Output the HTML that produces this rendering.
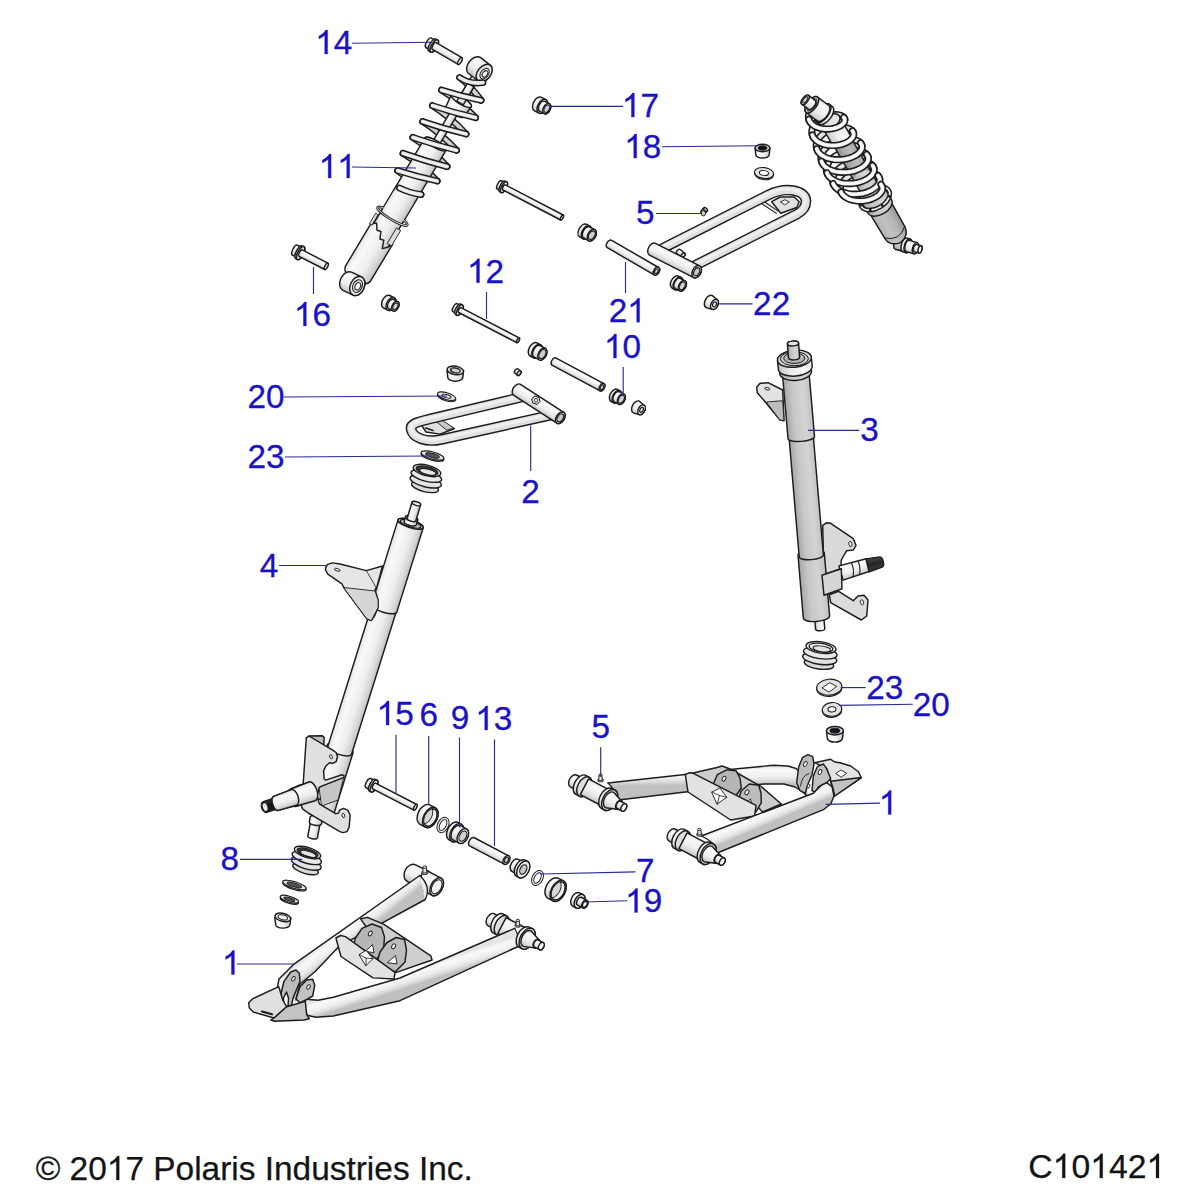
<!DOCTYPE html>
<html><head><meta charset="utf-8"><title>C101421</title>
<style>html,body{margin:0;padding:0;background:#fff;}body{width:1200px;height:1200px;overflow:hidden;font-family:"Liberation Sans",sans-serif;}svg{display:block;}text{font-family:"Liberation Sans",sans-serif;}</style>
</head><body>
<svg width="1200" height="1200" viewBox="0 0 1200 1200">
<defs><linearGradient id="g1" gradientUnits="userSpaceOnUse" x1="436.1" y1="42.7" x2="432.3" y2="49.3"><stop offset="0" stop-color="#e4e4e4"/><stop offset="0.22" stop-color="#f9f9f9"/><stop offset="0.6" stop-color="#eeeeee"/><stop offset="0.82" stop-color="#dadada"/><stop offset="1" stop-color="#c0c0c0"/></linearGradient><linearGradient id="g2" gradientUnits="userSpaceOnUse" x1="436" y1="39" x2="428.9" y2="51.1"><stop offset="0" stop-color="#e4e4e4"/><stop offset="0.22" stop-color="#f9f9f9"/><stop offset="0.6" stop-color="#eeeeee"/><stop offset="0.82" stop-color="#dadada"/><stop offset="1" stop-color="#c0c0c0"/></linearGradient><linearGradient id="g3" gradientUnits="userSpaceOnUse" x1="431.3" y1="38" x2="425.8" y2="47.5"><stop offset="0" stop-color="#e4e4e4"/><stop offset="0.22" stop-color="#f9f9f9"/><stop offset="0.6" stop-color="#eeeeee"/><stop offset="0.82" stop-color="#dadada"/><stop offset="1" stop-color="#c0c0c0"/></linearGradient><linearGradient id="g4" gradientUnits="userSpaceOnUse" x1="302.3" y1="249.9" x2="299" y2="256.3"><stop offset="0" stop-color="#e4e4e4"/><stop offset="0.22" stop-color="#f9f9f9"/><stop offset="0.6" stop-color="#eeeeee"/><stop offset="0.82" stop-color="#dadada"/><stop offset="1" stop-color="#c0c0c0"/></linearGradient><linearGradient id="g5" gradientUnits="userSpaceOnUse" x1="302.1" y1="245.8" x2="295.6" y2="258.6"><stop offset="0" stop-color="#e4e4e4"/><stop offset="0.22" stop-color="#f9f9f9"/><stop offset="0.6" stop-color="#eeeeee"/><stop offset="0.82" stop-color="#dadada"/><stop offset="1" stop-color="#c0c0c0"/></linearGradient><linearGradient id="g6" gradientUnits="userSpaceOnUse" x1="297.4" y1="245.2" x2="292.3" y2="255.2"><stop offset="0" stop-color="#e4e4e4"/><stop offset="0.22" stop-color="#f9f9f9"/><stop offset="0.6" stop-color="#eeeeee"/><stop offset="0.82" stop-color="#dadada"/><stop offset="1" stop-color="#c0c0c0"/></linearGradient><linearGradient id="g7" gradientUnits="userSpaceOnUse" x1="505.3" y1="184.8" x2="502.7" y2="189.8"><stop offset="0" stop-color="#e4e4e4"/><stop offset="0.22" stop-color="#f9f9f9"/><stop offset="0.6" stop-color="#eeeeee"/><stop offset="0.82" stop-color="#dadada"/><stop offset="1" stop-color="#c0c0c0"/></linearGradient><linearGradient id="g8" gradientUnits="userSpaceOnUse" x1="505" y1="181.1" x2="499.5" y2="191.7"><stop offset="0" stop-color="#e4e4e4"/><stop offset="0.22" stop-color="#f9f9f9"/><stop offset="0.6" stop-color="#eeeeee"/><stop offset="0.82" stop-color="#dadada"/><stop offset="1" stop-color="#c0c0c0"/></linearGradient><linearGradient id="g9" gradientUnits="userSpaceOnUse" x1="501.3" y1="180.6" x2="497" y2="188.9"><stop offset="0" stop-color="#e4e4e4"/><stop offset="0.22" stop-color="#f9f9f9"/><stop offset="0.6" stop-color="#eeeeee"/><stop offset="0.82" stop-color="#dadada"/><stop offset="1" stop-color="#c0c0c0"/></linearGradient><linearGradient id="g10" gradientUnits="userSpaceOnUse" x1="461" y1="307.7" x2="458.5" y2="312.5"><stop offset="0" stop-color="#e4e4e4"/><stop offset="0.22" stop-color="#f9f9f9"/><stop offset="0.6" stop-color="#eeeeee"/><stop offset="0.82" stop-color="#dadada"/><stop offset="1" stop-color="#c0c0c0"/></linearGradient><linearGradient id="g11" gradientUnits="userSpaceOnUse" x1="460.6" y1="304" x2="455.3" y2="314.3"><stop offset="0" stop-color="#e4e4e4"/><stop offset="0.22" stop-color="#f9f9f9"/><stop offset="0.6" stop-color="#eeeeee"/><stop offset="0.82" stop-color="#dadada"/><stop offset="1" stop-color="#c0c0c0"/></linearGradient><linearGradient id="g12" gradientUnits="userSpaceOnUse" x1="456.9" y1="303.6" x2="452.8" y2="311.6"><stop offset="0" stop-color="#e4e4e4"/><stop offset="0.22" stop-color="#f9f9f9"/><stop offset="0.6" stop-color="#eeeeee"/><stop offset="0.82" stop-color="#dadada"/><stop offset="1" stop-color="#c0c0c0"/></linearGradient><linearGradient id="g13" gradientUnits="userSpaceOnUse" x1="375.5" y1="783.2" x2="372.6" y2="788.9"><stop offset="0" stop-color="#e4e4e4"/><stop offset="0.22" stop-color="#f9f9f9"/><stop offset="0.6" stop-color="#eeeeee"/><stop offset="0.82" stop-color="#dadada"/><stop offset="1" stop-color="#c0c0c0"/></linearGradient><linearGradient id="g14" gradientUnits="userSpaceOnUse" x1="375.3" y1="779.3" x2="369.2" y2="791"><stop offset="0" stop-color="#e4e4e4"/><stop offset="0.22" stop-color="#f9f9f9"/><stop offset="0.6" stop-color="#eeeeee"/><stop offset="0.82" stop-color="#dadada"/><stop offset="1" stop-color="#c0c0c0"/></linearGradient><linearGradient id="g15" gradientUnits="userSpaceOnUse" x1="370.6" y1="778.5" x2="365.9" y2="787.6"><stop offset="0" stop-color="#e4e4e4"/><stop offset="0.22" stop-color="#f9f9f9"/><stop offset="0.6" stop-color="#eeeeee"/><stop offset="0.82" stop-color="#dadada"/><stop offset="1" stop-color="#c0c0c0"/></linearGradient><linearGradient id="g16" gradientUnits="userSpaceOnUse" x1="611.7" y1="240.3" x2="607.3" y2="247.7"><stop offset="0" stop-color="#e4e4e4"/><stop offset="0.22" stop-color="#f9f9f9"/><stop offset="0.6" stop-color="#eeeeee"/><stop offset="0.82" stop-color="#dadada"/><stop offset="1" stop-color="#c0c0c0"/></linearGradient><linearGradient id="g17" gradientUnits="userSpaceOnUse" x1="555.7" y1="357.9" x2="551.9" y2="365.1"><stop offset="0" stop-color="#e4e4e4"/><stop offset="0.22" stop-color="#f9f9f9"/><stop offset="0.6" stop-color="#eeeeee"/><stop offset="0.82" stop-color="#dadada"/><stop offset="1" stop-color="#c0c0c0"/></linearGradient><linearGradient id="g18" gradientUnits="userSpaceOnUse" x1="473.9" y1="837.5" x2="469.5" y2="845.9"><stop offset="0" stop-color="#e4e4e4"/><stop offset="0.22" stop-color="#f9f9f9"/><stop offset="0.6" stop-color="#eeeeee"/><stop offset="0.82" stop-color="#dadada"/><stop offset="1" stop-color="#c0c0c0"/></linearGradient><linearGradient id="g19" gradientUnits="userSpaceOnUse" x1="541.5" y1="97.3" x2="534.4" y2="110.8"><stop offset="0" stop-color="#e4e4e4"/><stop offset="0.22" stop-color="#f9f9f9"/><stop offset="0.6" stop-color="#eeeeee"/><stop offset="0.82" stop-color="#dadada"/><stop offset="1" stop-color="#c0c0c0"/></linearGradient><linearGradient id="g20" gradientUnits="userSpaceOnUse" x1="545" y1="101.4" x2="539.8" y2="111.4"><stop offset="0" stop-color="#e4e4e4"/><stop offset="0.22" stop-color="#f9f9f9"/><stop offset="0.6" stop-color="#eeeeee"/><stop offset="0.82" stop-color="#dadada"/><stop offset="1" stop-color="#c0c0c0"/></linearGradient><linearGradient id="g21" gradientUnits="userSpaceOnUse" x1="389.8" y1="295.5" x2="383.3" y2="307.9"><stop offset="0" stop-color="#e4e4e4"/><stop offset="0.22" stop-color="#f9f9f9"/><stop offset="0.6" stop-color="#eeeeee"/><stop offset="0.82" stop-color="#dadada"/><stop offset="1" stop-color="#c0c0c0"/></linearGradient><linearGradient id="g22" gradientUnits="userSpaceOnUse" x1="393.4" y1="299.4" x2="388.6" y2="308.6"><stop offset="0" stop-color="#e4e4e4"/><stop offset="0.22" stop-color="#f9f9f9"/><stop offset="0.6" stop-color="#eeeeee"/><stop offset="0.82" stop-color="#dadada"/><stop offset="1" stop-color="#c0c0c0"/></linearGradient><linearGradient id="g23" gradientUnits="userSpaceOnUse" x1="586.3" y1="224.2" x2="579.6" y2="236.9"><stop offset="0" stop-color="#e4e4e4"/><stop offset="0.22" stop-color="#f9f9f9"/><stop offset="0.6" stop-color="#eeeeee"/><stop offset="0.82" stop-color="#dadada"/><stop offset="1" stop-color="#c0c0c0"/></linearGradient><linearGradient id="g24" gradientUnits="userSpaceOnUse" x1="589.4" y1="226.9" x2="583.6" y2="238"><stop offset="0" stop-color="#e4e4e4"/><stop offset="0.22" stop-color="#f9f9f9"/><stop offset="0.6" stop-color="#eeeeee"/><stop offset="0.82" stop-color="#dadada"/><stop offset="1" stop-color="#c0c0c0"/></linearGradient><linearGradient id="g25" gradientUnits="userSpaceOnUse" x1="537" y1="342.9" x2="530.1" y2="356"><stop offset="0" stop-color="#e4e4e4"/><stop offset="0.22" stop-color="#f9f9f9"/><stop offset="0.6" stop-color="#eeeeee"/><stop offset="0.82" stop-color="#dadada"/><stop offset="1" stop-color="#c0c0c0"/></linearGradient><linearGradient id="g26" gradientUnits="userSpaceOnUse" x1="540.1" y1="345.6" x2="534.1" y2="357.1"><stop offset="0" stop-color="#e4e4e4"/><stop offset="0.22" stop-color="#f9f9f9"/><stop offset="0.6" stop-color="#eeeeee"/><stop offset="0.82" stop-color="#dadada"/><stop offset="1" stop-color="#c0c0c0"/></linearGradient><linearGradient id="g27" gradientUnits="userSpaceOnUse" x1="617.4" y1="389.4" x2="611.1" y2="401.5"><stop offset="0" stop-color="#e4e4e4"/><stop offset="0.22" stop-color="#f9f9f9"/><stop offset="0.6" stop-color="#eeeeee"/><stop offset="0.82" stop-color="#dadada"/><stop offset="1" stop-color="#c0c0c0"/></linearGradient><linearGradient id="g28" gradientUnits="userSpaceOnUse" x1="619.6" y1="391.8" x2="614.3" y2="401.9"><stop offset="0" stop-color="#e4e4e4"/><stop offset="0.22" stop-color="#f9f9f9"/><stop offset="0.6" stop-color="#eeeeee"/><stop offset="0.82" stop-color="#dadada"/><stop offset="1" stop-color="#c0c0c0"/></linearGradient><linearGradient id="g29" gradientUnits="userSpaceOnUse" x1="678.4" y1="276.1" x2="672.1" y2="288.2"><stop offset="0" stop-color="#e4e4e4"/><stop offset="0.22" stop-color="#f9f9f9"/><stop offset="0.6" stop-color="#eeeeee"/><stop offset="0.82" stop-color="#dadada"/><stop offset="1" stop-color="#c0c0c0"/></linearGradient><linearGradient id="g30" gradientUnits="userSpaceOnUse" x1="680.6" y1="278.5" x2="675.3" y2="288.6"><stop offset="0" stop-color="#e4e4e4"/><stop offset="0.22" stop-color="#f9f9f9"/><stop offset="0.6" stop-color="#eeeeee"/><stop offset="0.82" stop-color="#dadada"/><stop offset="1" stop-color="#c0c0c0"/></linearGradient><linearGradient id="g31" gradientUnits="userSpaceOnUse" x1="457.7" y1="822.3" x2="448.6" y2="839.6"><stop offset="0" stop-color="#e4e4e4"/><stop offset="0.22" stop-color="#f9f9f9"/><stop offset="0.6" stop-color="#eeeeee"/><stop offset="0.82" stop-color="#dadada"/><stop offset="1" stop-color="#c0c0c0"/></linearGradient><linearGradient id="g32" gradientUnits="userSpaceOnUse" x1="460.4" y1="825.7" x2="453" y2="839.9"><stop offset="0" stop-color="#e4e4e4"/><stop offset="0.22" stop-color="#f9f9f9"/><stop offset="0.6" stop-color="#eeeeee"/><stop offset="0.82" stop-color="#dadada"/><stop offset="1" stop-color="#c0c0c0"/></linearGradient><linearGradient id="g33" gradientUnits="userSpaceOnUse" x1="518.2" y1="859.3" x2="511.8" y2="871.3"><stop offset="0" stop-color="#e4e4e4"/><stop offset="0.22" stop-color="#f9f9f9"/><stop offset="0.6" stop-color="#eeeeee"/><stop offset="0.82" stop-color="#dadada"/><stop offset="1" stop-color="#c0c0c0"/></linearGradient><linearGradient id="g34" gradientUnits="userSpaceOnUse" x1="524.8" y1="859.9" x2="516.2" y2="876.1"><stop offset="0" stop-color="#e4e4e4"/><stop offset="0.22" stop-color="#f9f9f9"/><stop offset="0.6" stop-color="#eeeeee"/><stop offset="0.82" stop-color="#dadada"/><stop offset="1" stop-color="#c0c0c0"/></linearGradient><linearGradient id="g35" gradientUnits="userSpaceOnUse" x1="579.6" y1="892.8" x2="572.6" y2="906.1"><stop offset="0" stop-color="#e4e4e4"/><stop offset="0.22" stop-color="#f9f9f9"/><stop offset="0.6" stop-color="#eeeeee"/><stop offset="0.82" stop-color="#dadada"/><stop offset="1" stop-color="#c0c0c0"/></linearGradient><linearGradient id="g36" gradientUnits="userSpaceOnUse" x1="581.6" y1="897.5" x2="577.6" y2="905.1"><stop offset="0" stop-color="#e4e4e4"/><stop offset="0.22" stop-color="#f9f9f9"/><stop offset="0.6" stop-color="#eeeeee"/><stop offset="0.82" stop-color="#dadada"/><stop offset="1" stop-color="#c0c0c0"/></linearGradient><linearGradient id="g37" gradientUnits="userSpaceOnUse" x1="712.4" y1="295.6" x2="706" y2="307.6"><stop offset="0" stop-color="#e4e4e4"/><stop offset="0.22" stop-color="#f9f9f9"/><stop offset="0.6" stop-color="#eeeeee"/><stop offset="0.82" stop-color="#dadada"/><stop offset="1" stop-color="#c0c0c0"/></linearGradient><linearGradient id="g38" gradientUnits="userSpaceOnUse" x1="639.4" y1="401.2" x2="633.2" y2="412.9"><stop offset="0" stop-color="#e4e4e4"/><stop offset="0.22" stop-color="#f9f9f9"/><stop offset="0.6" stop-color="#eeeeee"/><stop offset="0.82" stop-color="#dadada"/><stop offset="1" stop-color="#c0c0c0"/></linearGradient><linearGradient id="g39" gradientUnits="userSpaceOnUse" x1="429.7" y1="804.8" x2="419.6" y2="824.1"><stop offset="0" stop-color="#e4e4e4"/><stop offset="0.22" stop-color="#f9f9f9"/><stop offset="0.6" stop-color="#eeeeee"/><stop offset="0.82" stop-color="#dadada"/><stop offset="1" stop-color="#c0c0c0"/></linearGradient><clipPath id="c1039"><ellipse cx="430.4" cy="817.5" rx="5.8" ry="9.3" transform="rotate(27.7 430.4 817.5)"/></clipPath><linearGradient id="g40" gradientUnits="userSpaceOnUse" x1="558.1" y1="878.1" x2="547.6" y2="898.1"><stop offset="0" stop-color="#e4e4e4"/><stop offset="0.22" stop-color="#f9f9f9"/><stop offset="0.6" stop-color="#eeeeee"/><stop offset="0.82" stop-color="#dadada"/><stop offset="1" stop-color="#c0c0c0"/></linearGradient><clipPath id="c1041"><ellipse cx="558.2" cy="890.9" rx="6" ry="9.7" transform="rotate(27.7 558.2 890.9)"/></clipPath><linearGradient id="g41" gradientUnits="userSpaceOnUse" x1="307" y1="810" x2="332.6" y2="818"><stop offset="0" stop-color="#e4e4e4"/><stop offset="0.22" stop-color="#f9f9f9"/><stop offset="0.6" stop-color="#eeeeee"/><stop offset="0.82" stop-color="#dadada"/><stop offset="1" stop-color="#c0c0c0"/></linearGradient><linearGradient id="g42" gradientUnits="userSpaceOnUse" x1="327.6" y1="747.3" x2="351.4" y2="754.7"><stop offset="0" stop-color="#e4e4e4"/><stop offset="0.22" stop-color="#f9f9f9"/><stop offset="0.6" stop-color="#eeeeee"/><stop offset="0.82" stop-color="#dadada"/><stop offset="1" stop-color="#c0c0c0"/></linearGradient><linearGradient id="g43" gradientUnits="userSpaceOnUse" x1="371.5" y1="604.6" x2="396.7" y2="612.4"><stop offset="0" stop-color="#e4e4e4"/><stop offset="0.22" stop-color="#f9f9f9"/><stop offset="0.6" stop-color="#eeeeee"/><stop offset="0.82" stop-color="#dadada"/><stop offset="1" stop-color="#c0c0c0"/></linearGradient><linearGradient id="g44" gradientUnits="userSpaceOnUse" x1="404.2" y1="521.3" x2="416.4" y2="524.7"><stop offset="0" stop-color="#e4e4e4"/><stop offset="0.22" stop-color="#f9f9f9"/><stop offset="0.6" stop-color="#eeeeee"/><stop offset="0.82" stop-color="#dadada"/><stop offset="1" stop-color="#c0c0c0"/></linearGradient><linearGradient id="g45" gradientUnits="userSpaceOnUse" x1="407.2" y1="518.2" x2="415.8" y2="520.8"><stop offset="0" stop-color="#e4e4e4"/><stop offset="0.22" stop-color="#f9f9f9"/><stop offset="0.6" stop-color="#eeeeee"/><stop offset="0.82" stop-color="#dadada"/><stop offset="1" stop-color="#c0c0c0"/></linearGradient><linearGradient id="g46" gradientUnits="userSpaceOnUse" x1="297.6" y1="786" x2="303.7" y2="804.4"><stop offset="0" stop-color="#e4e4e4"/><stop offset="0.22" stop-color="#f9f9f9"/><stop offset="0.6" stop-color="#eeeeee"/><stop offset="0.82" stop-color="#dadada"/><stop offset="1" stop-color="#c0c0c0"/></linearGradient><linearGradient id="g47" gradientUnits="userSpaceOnUse" x1="290.2" y1="789.2" x2="295.9" y2="806.3"><stop offset="0" stop-color="#e4e4e4"/><stop offset="0.22" stop-color="#f9f9f9"/><stop offset="0.6" stop-color="#eeeeee"/><stop offset="0.82" stop-color="#dadada"/><stop offset="1" stop-color="#c0c0c0"/></linearGradient><linearGradient id="g48" gradientUnits="userSpaceOnUse" x1="273.7" y1="796.4" x2="278.3" y2="810.4"><stop offset="0" stop-color="#e4e4e4"/><stop offset="0.22" stop-color="#f9f9f9"/><stop offset="0.6" stop-color="#eeeeee"/><stop offset="0.82" stop-color="#dadada"/><stop offset="1" stop-color="#c0c0c0"/></linearGradient><linearGradient id="g49" gradientUnits="userSpaceOnUse" x1="275.2" y1="797.8" x2="278.7" y2="808.4"><stop offset="0" stop-color="#333"/><stop offset="0.5" stop-color="#111"/><stop offset="1" stop-color="#222"/></linearGradient><linearGradient id="g50" gradientUnits="userSpaceOnUse" x1="307.8" y1="836.1" x2="317.4" y2="837.9"><stop offset="0" stop-color="#e4e4e4"/><stop offset="0.22" stop-color="#f9f9f9"/><stop offset="0.6" stop-color="#eeeeee"/><stop offset="0.82" stop-color="#dadada"/><stop offset="1" stop-color="#c0c0c0"/></linearGradient><linearGradient id="g51" gradientUnits="userSpaceOnUse" x1="309.3" y1="822" x2="321.5" y2="824"><stop offset="0" stop-color="#e4e4e4"/><stop offset="0.22" stop-color="#f9f9f9"/><stop offset="0.6" stop-color="#eeeeee"/><stop offset="0.82" stop-color="#dadada"/><stop offset="1" stop-color="#c0c0c0"/></linearGradient><linearGradient id="g52" gradientUnits="userSpaceOnUse" x1="290.2" y1="789.2" x2="295.9" y2="806.3"><stop offset="0" stop-color="#e4e4e4"/><stop offset="0.22" stop-color="#f9f9f9"/><stop offset="0.6" stop-color="#eeeeee"/><stop offset="0.82" stop-color="#dadada"/><stop offset="1" stop-color="#c0c0c0"/></linearGradient><linearGradient id="g53" gradientUnits="userSpaceOnUse" x1="273.7" y1="796.4" x2="278.3" y2="810.4"><stop offset="0" stop-color="#e4e4e4"/><stop offset="0.22" stop-color="#f9f9f9"/><stop offset="0.6" stop-color="#eeeeee"/><stop offset="0.82" stop-color="#dadada"/><stop offset="1" stop-color="#c0c0c0"/></linearGradient><linearGradient id="g54" gradientUnits="userSpaceOnUse" x1="838.9" y1="565.9" x2="843.1" y2="580.1"><stop offset="0" stop-color="#e4e4e4"/><stop offset="0.22" stop-color="#f9f9f9"/><stop offset="0.6" stop-color="#eeeeee"/><stop offset="0.82" stop-color="#dadada"/><stop offset="1" stop-color="#c0c0c0"/></linearGradient><linearGradient id="g55" gradientUnits="userSpaceOnUse" x1="865.9" y1="558.9" x2="869.1" y2="571.7"><stop offset="0" stop-color="#4a4a4a"/><stop offset="0.5" stop-color="#262626"/><stop offset="1" stop-color="#3a3a3a"/></linearGradient><linearGradient id="g56" gradientUnits="userSpaceOnUse" x1="824.8" y1="628.6" x2="815.6" y2="629.4"><stop offset="0" stop-color="#e4e4e4"/><stop offset="0.22" stop-color="#f9f9f9"/><stop offset="0.6" stop-color="#eeeeee"/><stop offset="0.82" stop-color="#dadada"/><stop offset="1" stop-color="#c0c0c0"/></linearGradient><linearGradient id="g57" gradientUnits="userSpaceOnUse" x1="829.6" y1="615.9" x2="803.3" y2="618.1"><stop offset="0" stop-color="#c2c2c2"/><stop offset="0.3" stop-color="#d4d4d4"/><stop offset="0.7" stop-color="#c6c6c6"/><stop offset="1" stop-color="#a6a6a6"/></linearGradient><linearGradient id="g58" gradientUnits="userSpaceOnUse" x1="823.4" y1="555" x2="799.2" y2="557"><stop offset="0" stop-color="#c2c2c2"/><stop offset="0.3" stop-color="#d4d4d4"/><stop offset="0.7" stop-color="#c6c6c6"/><stop offset="1" stop-color="#a6a6a6"/></linearGradient><linearGradient id="g59" gradientUnits="userSpaceOnUse" x1="814.5" y1="436.4" x2="788" y2="438.6"><stop offset="0" stop-color="#c2c2c2"/><stop offset="0.3" stop-color="#d4d4d4"/><stop offset="0.7" stop-color="#c6c6c6"/><stop offset="1" stop-color="#a6a6a6"/></linearGradient><linearGradient id="g60" gradientUnits="userSpaceOnUse" x1="811.4" y1="371.4" x2="779.8" y2="373.6"><stop offset="0" stop-color="#c2c2c2"/><stop offset="0.3" stop-color="#d4d4d4"/><stop offset="0.7" stop-color="#c6c6c6"/><stop offset="1" stop-color="#a6a6a6"/></linearGradient><linearGradient id="g61" gradientUnits="userSpaceOnUse" x1="812.2" y1="366.4" x2="778.4" y2="369.6"><stop offset="0" stop-color="#e4e4e4"/><stop offset="0.22" stop-color="#f9f9f9"/><stop offset="0.6" stop-color="#eeeeee"/><stop offset="0.82" stop-color="#dadada"/><stop offset="1" stop-color="#c0c0c0"/></linearGradient><linearGradient id="g62" gradientUnits="userSpaceOnUse" x1="799.6" y1="357.1" x2="788.4" y2="357.9"><stop offset="0" stop-color="#c2c2c2"/><stop offset="0.3" stop-color="#d4d4d4"/><stop offset="0.7" stop-color="#c6c6c6"/><stop offset="1" stop-color="#a6a6a6"/></linearGradient><linearGradient id="g63" gradientUnits="userSpaceOnUse" x1="430.2" y1="145.6" x2="436.6" y2="149.4"><stop offset="0" stop-color="#e4e4e4"/><stop offset="0.22" stop-color="#f9f9f9"/><stop offset="0.6" stop-color="#eeeeee"/><stop offset="0.82" stop-color="#dadada"/><stop offset="1" stop-color="#c0c0c0"/></linearGradient><linearGradient id="g64" gradientUnits="userSpaceOnUse" x1="349" y1="264.8" x2="370.1" y2="277.4"><stop offset="0" stop-color="#e4e4e4"/><stop offset="0.22" stop-color="#f9f9f9"/><stop offset="0.6" stop-color="#eeeeee"/><stop offset="0.82" stop-color="#dadada"/><stop offset="1" stop-color="#c0c0c0"/></linearGradient><linearGradient id="g65" gradientUnits="userSpaceOnUse" x1="446" y1="106.2" x2="463.9" y2="116.8"><stop offset="0" stop-color="#e4e4e4"/><stop offset="0.22" stop-color="#f9f9f9"/><stop offset="0.6" stop-color="#eeeeee"/><stop offset="0.82" stop-color="#dadada"/><stop offset="1" stop-color="#c0c0c0"/></linearGradient><linearGradient id="g66" gradientUnits="userSpaceOnUse" x1="456.9" y1="101" x2="463.3" y2="104.8"><stop offset="0" stop-color="#e4e4e4"/><stop offset="0.22" stop-color="#f9f9f9"/><stop offset="0.6" stop-color="#eeeeee"/><stop offset="0.82" stop-color="#dadada"/><stop offset="1" stop-color="#c0c0c0"/></linearGradient><linearGradient id="g67" gradientUnits="userSpaceOnUse" x1="365.5" y1="232.7" x2="390.5" y2="247.7"><stop offset="0" stop-color="#e4e4e4"/><stop offset="0.22" stop-color="#f9f9f9"/><stop offset="0.6" stop-color="#eeeeee"/><stop offset="0.82" stop-color="#dadada"/><stop offset="1" stop-color="#c0c0c0"/></linearGradient><clipPath id="cl_sl"><path d="M393.7 191.3L382.9 209.4L402.8 221.3L413.6 203.3Z"/></clipPath><linearGradient id="g68" gradientUnits="userSpaceOnUse" x1="349" y1="264.8" x2="370.1" y2="277.4"><stop offset="0" stop-color="#e4e4e4"/><stop offset="0.22" stop-color="#f9f9f9"/><stop offset="0.6" stop-color="#eeeeee"/><stop offset="0.82" stop-color="#dadada"/><stop offset="1" stop-color="#c0c0c0"/></linearGradient><linearGradient id="g69" gradientUnits="userSpaceOnUse" x1="480.4" y1="57.4" x2="468" y2="73"><stop offset="0" stop-color="#e4e4e4"/><stop offset="0.22" stop-color="#f9f9f9"/><stop offset="0.6" stop-color="#eeeeee"/><stop offset="0.82" stop-color="#dadada"/><stop offset="1" stop-color="#c0c0c0"/></linearGradient><linearGradient id="g70" gradientUnits="userSpaceOnUse" x1="351.6" y1="272.2" x2="343" y2="290.4"><stop offset="0" stop-color="#e4e4e4"/><stop offset="0.22" stop-color="#f9f9f9"/><stop offset="0.6" stop-color="#eeeeee"/><stop offset="0.82" stop-color="#dadada"/><stop offset="1" stop-color="#c0c0c0"/></linearGradient><linearGradient id="g71" gradientUnits="userSpaceOnUse" x1="879.8" y1="187.6" x2="863.4" y2="197.1"><stop offset="0" stop-color="#a4a4a4"/><stop offset="0.35" stop-color="#bcbcbc"/><stop offset="0.7" stop-color="#acacac"/><stop offset="1" stop-color="#8e8e8e"/></linearGradient><linearGradient id="g72" gradientUnits="userSpaceOnUse" x1="850.4" y1="135.3" x2="832.8" y2="145.5"><stop offset="0" stop-color="#e4e4e4"/><stop offset="0.22" stop-color="#f9f9f9"/><stop offset="0.6" stop-color="#eeeeee"/><stop offset="0.82" stop-color="#dadada"/><stop offset="1" stop-color="#c0c0c0"/></linearGradient><linearGradient id="g73" gradientUnits="userSpaceOnUse" x1="832.7" y1="106.8" x2="819.3" y2="124.2"><stop offset="0" stop-color="#e4e4e4"/><stop offset="0.22" stop-color="#f9f9f9"/><stop offset="0.6" stop-color="#eeeeee"/><stop offset="0.82" stop-color="#dadada"/><stop offset="1" stop-color="#c0c0c0"/></linearGradient><linearGradient id="g74" gradientUnits="userSpaceOnUse" x1="828.8" y1="105.5" x2="817.2" y2="120.9"><stop offset="0" stop-color="#e4e4e4"/><stop offset="0.22" stop-color="#f9f9f9"/><stop offset="0.6" stop-color="#eeeeee"/><stop offset="0.82" stop-color="#dadada"/><stop offset="1" stop-color="#c0c0c0"/></linearGradient><linearGradient id="g75" gradientUnits="userSpaceOnUse" x1="815.4" y1="100.6" x2="808.6" y2="109.4"><stop offset="0" stop-color="#e4e4e4"/><stop offset="0.22" stop-color="#f9f9f9"/><stop offset="0.6" stop-color="#eeeeee"/><stop offset="0.82" stop-color="#dadada"/><stop offset="1" stop-color="#c0c0c0"/></linearGradient><linearGradient id="g76" gradientUnits="userSpaceOnUse" x1="898.8" y1="236.8" x2="895.2" y2="249.2"><stop offset="0" stop-color="#c2c2c2"/><stop offset="0.3" stop-color="#d4d4d4"/><stop offset="0.7" stop-color="#c6c6c6"/><stop offset="1" stop-color="#a6a6a6"/></linearGradient><linearGradient id="g77" gradientUnits="userSpaceOnUse" x1="907.1" y1="238.1" x2="902.9" y2="251.9"><stop offset="0" stop-color="#e4e4e4"/><stop offset="0.22" stop-color="#f9f9f9"/><stop offset="0.6" stop-color="#eeeeee"/><stop offset="0.82" stop-color="#dadada"/><stop offset="1" stop-color="#c0c0c0"/></linearGradient><linearGradient id="g78" gradientUnits="userSpaceOnUse" x1="909.6" y1="240.4" x2="906.4" y2="251.6"><stop offset="0" stop-color="#e4e4e4"/><stop offset="0.22" stop-color="#f9f9f9"/><stop offset="0.6" stop-color="#eeeeee"/><stop offset="0.82" stop-color="#dadada"/><stop offset="1" stop-color="#c0c0c0"/></linearGradient><linearGradient id="g79" gradientUnits="userSpaceOnUse" x1="916.5" y1="244.5" x2="914.5" y2="251.9"><stop offset="0" stop-color="#e4e4e4"/><stop offset="0.22" stop-color="#f9f9f9"/><stop offset="0.6" stop-color="#eeeeee"/><stop offset="0.82" stop-color="#dadada"/><stop offset="1" stop-color="#c0c0c0"/></linearGradient><linearGradient id="g80" gradientUnits="userSpaceOnUse" x1="873.9" y1="221" x2="895.3" y2="208.7"><stop offset="0" stop-color="#b0b0b0"/><stop offset="0.35" stop-color="#c2c2c2"/><stop offset="0.7" stop-color="#b4b4b4"/><stop offset="1" stop-color="#959595"/></linearGradient><linearGradient id="g81" gradientUnits="userSpaceOnUse" x1="891.4" y1="199.4" x2="867.8" y2="213"><stop offset="0" stop-color="#c2c2c2"/><stop offset="0.3" stop-color="#d4d4d4"/><stop offset="0.7" stop-color="#c6c6c6"/><stop offset="1" stop-color="#a6a6a6"/></linearGradient><linearGradient id="g82" gradientUnits="userSpaceOnUse" x1="880.8" y1="189.3" x2="864.4" y2="198.8"><stop offset="0" stop-color="#c2c2c2"/><stop offset="0.3" stop-color="#d4d4d4"/><stop offset="0.7" stop-color="#c6c6c6"/><stop offset="1" stop-color="#a6a6a6"/></linearGradient><linearGradient id="g83" gradientUnits="userSpaceOnUse" x1="415.7" y1="864.9" x2="407.3" y2="881.5"><stop offset="0" stop-color="#e4e4e4"/><stop offset="0.22" stop-color="#f9f9f9"/><stop offset="0.6" stop-color="#eeeeee"/><stop offset="0.82" stop-color="#dadada"/><stop offset="1" stop-color="#c0c0c0"/></linearGradient><linearGradient id="g84" gradientUnits="userSpaceOnUse" x1="424.5" y1="869.4" x2="415.5" y2="886.6"><stop offset="0" stop-color="#e4e4e4"/><stop offset="0.22" stop-color="#f9f9f9"/><stop offset="0.6" stop-color="#eeeeee"/><stop offset="0.82" stop-color="#dadada"/><stop offset="1" stop-color="#c0c0c0"/></linearGradient><linearGradient id="g85" gradientUnits="userSpaceOnUse" x1="279" y1="979" x2="289.6" y2="992.2"><stop offset="0" stop-color="#e4e4e4"/><stop offset="0.22" stop-color="#f9f9f9"/><stop offset="0.6" stop-color="#eeeeee"/><stop offset="0.82" stop-color="#dadada"/><stop offset="1" stop-color="#c0c0c0"/></linearGradient><linearGradient id="g86" gradientUnits="userSpaceOnUse" x1="494" y1="913.7" x2="487.8" y2="925.6"><stop offset="0" stop-color="#e4e4e4"/><stop offset="0.22" stop-color="#f9f9f9"/><stop offset="0.6" stop-color="#eeeeee"/><stop offset="0.82" stop-color="#dadada"/><stop offset="1" stop-color="#c0c0c0"/></linearGradient><linearGradient id="g87" gradientUnits="userSpaceOnUse" x1="503.4" y1="914.1" x2="493.4" y2="933.1"><stop offset="0" stop-color="#e4e4e4"/><stop offset="0.22" stop-color="#f9f9f9"/><stop offset="0.6" stop-color="#eeeeee"/><stop offset="0.82" stop-color="#dadada"/><stop offset="1" stop-color="#c0c0c0"/></linearGradient><linearGradient id="g88" gradientUnits="userSpaceOnUse" x1="506.1" y1="917.6" x2="497.8" y2="933.4"><stop offset="0" stop-color="#e4e4e4"/><stop offset="0.22" stop-color="#f9f9f9"/><stop offset="0.6" stop-color="#eeeeee"/><stop offset="0.82" stop-color="#dadada"/><stop offset="1" stop-color="#c0c0c0"/></linearGradient><linearGradient id="g89" gradientUnits="userSpaceOnUse" x1="529.3" y1="927.1" x2="518.8" y2="947.1"><stop offset="0" stop-color="#e4e4e4"/><stop offset="0.22" stop-color="#f9f9f9"/><stop offset="0.6" stop-color="#eeeeee"/><stop offset="0.82" stop-color="#dadada"/><stop offset="1" stop-color="#c0c0c0"/></linearGradient><linearGradient id="g90" gradientUnits="userSpaceOnUse" x1="531.2" y1="931" x2="523.1" y2="946.4"><stop offset="0" stop-color="#e4e4e4"/><stop offset="0.22" stop-color="#f9f9f9"/><stop offset="0.6" stop-color="#eeeeee"/><stop offset="0.82" stop-color="#dadada"/><stop offset="1" stop-color="#c0c0c0"/></linearGradient><linearGradient id="g91" gradientUnits="userSpaceOnUse" x1="538.3" y1="940.1" x2="534.6" y2="947.2"><stop offset="0" stop-color="#e4e4e4"/><stop offset="0.22" stop-color="#f9f9f9"/><stop offset="0.6" stop-color="#eeeeee"/><stop offset="0.82" stop-color="#dadada"/><stop offset="1" stop-color="#c0c0c0"/></linearGradient><linearGradient id="g92" gradientUnits="userSpaceOnUse" x1="318" y1="1000.3" x2="322.8" y2="1015.1"><stop offset="0" stop-color="#e4e4e4"/><stop offset="0.22" stop-color="#f9f9f9"/><stop offset="0.6" stop-color="#eeeeee"/><stop offset="0.82" stop-color="#dadada"/><stop offset="1" stop-color="#c0c0c0"/></linearGradient><linearGradient id="g93" gradientUnits="userSpaceOnUse" x1="576.5" y1="775" x2="570.3" y2="786.9"><stop offset="0" stop-color="#e4e4e4"/><stop offset="0.22" stop-color="#f9f9f9"/><stop offset="0.6" stop-color="#eeeeee"/><stop offset="0.82" stop-color="#dadada"/><stop offset="1" stop-color="#c0c0c0"/></linearGradient><linearGradient id="g94" gradientUnits="userSpaceOnUse" x1="585.9" y1="775.4" x2="575.9" y2="794.4"><stop offset="0" stop-color="#e4e4e4"/><stop offset="0.22" stop-color="#f9f9f9"/><stop offset="0.6" stop-color="#eeeeee"/><stop offset="0.82" stop-color="#dadada"/><stop offset="1" stop-color="#c0c0c0"/></linearGradient><linearGradient id="g95" gradientUnits="userSpaceOnUse" x1="588.6" y1="778.9" x2="580.3" y2="794.7"><stop offset="0" stop-color="#e4e4e4"/><stop offset="0.22" stop-color="#f9f9f9"/><stop offset="0.6" stop-color="#eeeeee"/><stop offset="0.82" stop-color="#dadada"/><stop offset="1" stop-color="#c0c0c0"/></linearGradient><linearGradient id="g96" gradientUnits="userSpaceOnUse" x1="611.8" y1="788.4" x2="601.3" y2="808.4"><stop offset="0" stop-color="#e4e4e4"/><stop offset="0.22" stop-color="#f9f9f9"/><stop offset="0.6" stop-color="#eeeeee"/><stop offset="0.82" stop-color="#dadada"/><stop offset="1" stop-color="#c0c0c0"/></linearGradient><linearGradient id="g97" gradientUnits="userSpaceOnUse" x1="613.7" y1="792.3" x2="605.6" y2="807.7"><stop offset="0" stop-color="#e4e4e4"/><stop offset="0.22" stop-color="#f9f9f9"/><stop offset="0.6" stop-color="#eeeeee"/><stop offset="0.82" stop-color="#dadada"/><stop offset="1" stop-color="#c0c0c0"/></linearGradient><linearGradient id="g98" gradientUnits="userSpaceOnUse" x1="620.8" y1="801.4" x2="617.1" y2="808.5"><stop offset="0" stop-color="#e4e4e4"/><stop offset="0.22" stop-color="#f9f9f9"/><stop offset="0.6" stop-color="#eeeeee"/><stop offset="0.82" stop-color="#dadada"/><stop offset="1" stop-color="#c0c0c0"/></linearGradient><linearGradient id="g99" gradientUnits="userSpaceOnUse" x1="675" y1="829" x2="668.8" y2="840.9"><stop offset="0" stop-color="#e4e4e4"/><stop offset="0.22" stop-color="#f9f9f9"/><stop offset="0.6" stop-color="#eeeeee"/><stop offset="0.82" stop-color="#dadada"/><stop offset="1" stop-color="#c0c0c0"/></linearGradient><linearGradient id="g100" gradientUnits="userSpaceOnUse" x1="684.4" y1="829.4" x2="674.4" y2="848.4"><stop offset="0" stop-color="#e4e4e4"/><stop offset="0.22" stop-color="#f9f9f9"/><stop offset="0.6" stop-color="#eeeeee"/><stop offset="0.82" stop-color="#dadada"/><stop offset="1" stop-color="#c0c0c0"/></linearGradient><linearGradient id="g101" gradientUnits="userSpaceOnUse" x1="687.1" y1="832.9" x2="678.8" y2="848.7"><stop offset="0" stop-color="#e4e4e4"/><stop offset="0.22" stop-color="#f9f9f9"/><stop offset="0.6" stop-color="#eeeeee"/><stop offset="0.82" stop-color="#dadada"/><stop offset="1" stop-color="#c0c0c0"/></linearGradient><linearGradient id="g102" gradientUnits="userSpaceOnUse" x1="710.3" y1="842.4" x2="699.8" y2="862.4"><stop offset="0" stop-color="#e4e4e4"/><stop offset="0.22" stop-color="#f9f9f9"/><stop offset="0.6" stop-color="#eeeeee"/><stop offset="0.82" stop-color="#dadada"/><stop offset="1" stop-color="#c0c0c0"/></linearGradient><linearGradient id="g103" gradientUnits="userSpaceOnUse" x1="712.2" y1="846.3" x2="704.1" y2="861.7"><stop offset="0" stop-color="#e4e4e4"/><stop offset="0.22" stop-color="#f9f9f9"/><stop offset="0.6" stop-color="#eeeeee"/><stop offset="0.82" stop-color="#dadada"/><stop offset="1" stop-color="#c0c0c0"/></linearGradient><linearGradient id="g104" gradientUnits="userSpaceOnUse" x1="719.3" y1="855.4" x2="715.6" y2="862.5"><stop offset="0" stop-color="#e4e4e4"/><stop offset="0.22" stop-color="#f9f9f9"/><stop offset="0.6" stop-color="#eeeeee"/><stop offset="0.82" stop-color="#dadada"/><stop offset="1" stop-color="#c0c0c0"/></linearGradient><linearGradient id="g105" gradientUnits="userSpaceOnUse" x1="788" y1="766" x2="788.2" y2="784"><stop offset="0" stop-color="#e4e4e4"/><stop offset="0.22" stop-color="#f9f9f9"/><stop offset="0.6" stop-color="#eeeeee"/><stop offset="0.82" stop-color="#dadada"/><stop offset="1" stop-color="#c0c0c0"/></linearGradient><linearGradient id="g106" gradientUnits="userSpaceOnUse" x1="821.3" y1="785.3" x2="827.1" y2="798.9"><stop offset="0" stop-color="#e4e4e4"/><stop offset="0.22" stop-color="#f9f9f9"/><stop offset="0.6" stop-color="#eeeeee"/><stop offset="0.82" stop-color="#dadada"/><stop offset="1" stop-color="#c0c0c0"/></linearGradient><linearGradient id="g107" gradientUnits="userSpaceOnUse" x1="680.2" y1="249.5" x2="676.8" y2="253.5"><stop offset="0" stop-color="#e4e4e4"/><stop offset="0.22" stop-color="#f9f9f9"/><stop offset="0.6" stop-color="#eeeeee"/><stop offset="0.82" stop-color="#dadada"/><stop offset="1" stop-color="#c0c0c0"/></linearGradient><linearGradient id="g108" gradientUnits="userSpaceOnUse" x1="655.5" y1="243.3" x2="649.5" y2="255.1"><stop offset="0" stop-color="#e4e4e4"/><stop offset="0.22" stop-color="#f9f9f9"/><stop offset="0.6" stop-color="#eeeeee"/><stop offset="0.82" stop-color="#dadada"/><stop offset="1" stop-color="#c0c0c0"/></linearGradient><linearGradient id="g109" gradientUnits="userSpaceOnUse" x1="520.5" y1="384.3" x2="513.5" y2="395.1"><stop offset="0" stop-color="#e4e4e4"/><stop offset="0.22" stop-color="#f9f9f9"/><stop offset="0.6" stop-color="#eeeeee"/><stop offset="0.82" stop-color="#dadada"/><stop offset="1" stop-color="#c0c0c0"/></linearGradient><linearGradient id="g110" gradientUnits="userSpaceOnUse" x1="755.1" y1="151" x2="769.9" y2="151"><stop offset="0" stop-color="#e4e4e4"/><stop offset="0.22" stop-color="#f9f9f9"/><stop offset="0.6" stop-color="#eeeeee"/><stop offset="0.82" stop-color="#dadada"/><stop offset="1" stop-color="#c0c0c0"/></linearGradient><linearGradient id="g111" gradientUnits="userSpaceOnUse" x1="700.8" y1="211.5" x2="704.2" y2="214.5"><stop offset="0" stop-color="#e4e4e4"/><stop offset="0.22" stop-color="#f9f9f9"/><stop offset="0.6" stop-color="#eeeeee"/><stop offset="0.82" stop-color="#dadada"/><stop offset="1" stop-color="#c0c0c0"/></linearGradient><linearGradient id="g112" gradientUnits="userSpaceOnUse" x1="447" y1="373.5" x2="463.6" y2="373.5"><stop offset="0" stop-color="#e4e4e4"/><stop offset="0.22" stop-color="#f9f9f9"/><stop offset="0.6" stop-color="#eeeeee"/><stop offset="0.82" stop-color="#dadada"/><stop offset="1" stop-color="#c0c0c0"/></linearGradient><linearGradient id="g113" gradientUnits="userSpaceOnUse" x1="518.2" y1="369" x2="514.8" y2="373"><stop offset="0" stop-color="#e4e4e4"/><stop offset="0.22" stop-color="#f9f9f9"/><stop offset="0.6" stop-color="#eeeeee"/><stop offset="0.82" stop-color="#dadada"/><stop offset="1" stop-color="#c0c0c0"/></linearGradient><linearGradient id="g114" gradientUnits="userSpaceOnUse" x1="274.8" y1="920.5" x2="290.8" y2="920.5"><stop offset="0" stop-color="#e4e4e4"/><stop offset="0.22" stop-color="#f9f9f9"/><stop offset="0.6" stop-color="#eeeeee"/><stop offset="0.82" stop-color="#dadada"/><stop offset="1" stop-color="#c0c0c0"/></linearGradient><linearGradient id="g115" gradientUnits="userSpaceOnUse" x1="826.5" y1="734" x2="843.3" y2="734"><stop offset="0" stop-color="#e4e4e4"/><stop offset="0.22" stop-color="#f9f9f9"/><stop offset="0.6" stop-color="#eeeeee"/><stop offset="0.82" stop-color="#dadada"/><stop offset="1" stop-color="#c0c0c0"/></linearGradient></defs>
<path d="M425.8 47.5A2.2 5.5 30.1 0 1 431.3 38L435.2 40.3A2.2 5.5 30.1 0 1 429.7 49.7Z" fill="url(#g3)" stroke="#1c1c1c" stroke-width="1.45" stroke-linejoin="round"/><ellipse cx="432.5" cy="45" rx="2.2" ry="5.5" transform="rotate(30.1 432.5 45)" fill="#e4e4e4" stroke="#1c1c1c" stroke-width="1.45"/><path d="M428.9 51.1A2.8 7 30.1 0 1 436 39L437.7 40A2.8 7 30.1 0 1 430.7 52.1Z" fill="url(#g2)" stroke="#1c1c1c" stroke-width="1.45" stroke-linejoin="round"/><ellipse cx="434.2" cy="46" rx="2.8" ry="7" transform="rotate(30.1 434.2 46)" fill="#e4e4e4" stroke="#1c1c1c" stroke-width="1.45"/><path d="M432.3 49.3A1.5 3.8 30.1 0 1 436.1 42.7L461.9 57.7A1.5 3.8 30.1 0 1 458.1 64.3Z" fill="url(#g1)" stroke="#1c1c1c" stroke-width="1.45" stroke-linejoin="round"/><ellipse cx="460" cy="61" rx="1.5" ry="3.8" transform="rotate(30.1 460 61)" fill="#ececec" stroke="#1c1c1c" stroke-width="1.45"/>
<path d="M292.3 255.2A2.2 5.6 27.2 0 1 297.4 245.2L301.4 247.2A2.2 5.6 27.2 0 1 296.3 257.2Z" fill="url(#g6)" stroke="#1c1c1c" stroke-width="1.45" stroke-linejoin="round"/><ellipse cx="298.9" cy="252.2" rx="2.2" ry="5.6" transform="rotate(27.2 298.9 252.2)" fill="#e4e4e4" stroke="#1c1c1c" stroke-width="1.45"/><path d="M295.6 258.6A2.9 7.2 27.2 0 1 302.1 245.8L303.9 246.7A2.9 7.2 27.2 0 1 297.4 259.5Z" fill="url(#g5)" stroke="#1c1c1c" stroke-width="1.45" stroke-linejoin="round"/><ellipse cx="300.6" cy="253.1" rx="2.9" ry="7.2" transform="rotate(27.2 300.6 253.1)" fill="#e4e4e4" stroke="#1c1c1c" stroke-width="1.45"/><path d="M299 256.3A1.4 3.6 27.2 0 1 302.3 249.9L327.9 263.1A1.4 3.6 27.2 0 1 324.7 269.5Z" fill="url(#g4)" stroke="#1c1c1c" stroke-width="1.45" stroke-linejoin="round"/><ellipse cx="326.3" cy="266.3" rx="1.4" ry="3.6" transform="rotate(27.2 326.3 266.3)" fill="#ececec" stroke="#1c1c1c" stroke-width="1.45"/>
<path d="M497 188.9A1.9 4.7 27.5 0 1 501.3 180.6L504.4 182.2A1.9 4.7 27.5 0 1 500.1 190.5Z" fill="url(#g9)" stroke="#1c1c1c" stroke-width="1.45" stroke-linejoin="round"/><ellipse cx="502.3" cy="186.4" rx="1.9" ry="4.7" transform="rotate(27.5 502.3 186.4)" fill="#e4e4e4" stroke="#1c1c1c" stroke-width="1.45"/><path d="M499.5 191.7A2.4 6 27.5 0 1 505 181.1L506.8 182A2.4 6 27.5 0 1 501.3 192.6Z" fill="url(#g8)" stroke="#1c1c1c" stroke-width="1.45" stroke-linejoin="round"/><ellipse cx="504" cy="187.3" rx="2.4" ry="6" transform="rotate(27.5 504 187.3)" fill="#e4e4e4" stroke="#1c1c1c" stroke-width="1.45"/><path d="M502.7 189.8A1.1 2.8 27.5 0 1 505.3 184.8L563.2 215A1.1 2.8 27.5 0 1 560.6 220Z" fill="url(#g7)" stroke="#1c1c1c" stroke-width="1.45" stroke-linejoin="round"/><ellipse cx="561.9" cy="217.5" rx="1.1" ry="2.8" transform="rotate(27.5 561.9 217.5)" fill="#ececec" stroke="#1c1c1c" stroke-width="1.45"/>
<path d="M452.8 311.6A1.8 4.5 27.4 0 1 456.9 303.6L460 305.2A1.8 4.5 27.4 0 1 455.9 313.2Z" fill="url(#g12)" stroke="#1c1c1c" stroke-width="1.45" stroke-linejoin="round"/><ellipse cx="458" cy="309.2" rx="1.8" ry="4.5" transform="rotate(27.4 458 309.2)" fill="#e4e4e4" stroke="#1c1c1c" stroke-width="1.45"/><path d="M455.3 314.3A2.3 5.8 27.4 0 1 460.6 304L462.4 305A2.3 5.8 27.4 0 1 457.1 315.3Z" fill="url(#g11)" stroke="#1c1c1c" stroke-width="1.45" stroke-linejoin="round"/><ellipse cx="459.7" cy="310.1" rx="2.3" ry="5.8" transform="rotate(27.4 459.7 310.1)" fill="#e4e4e4" stroke="#1c1c1c" stroke-width="1.45"/><path d="M458.5 312.5A1.1 2.7 27.4 0 1 461 307.7L519.2 337.9A1.1 2.7 27.4 0 1 516.8 342.7Z" fill="url(#g10)" stroke="#1c1c1c" stroke-width="1.45" stroke-linejoin="round"/><ellipse cx="518" cy="340.3" rx="1.1" ry="2.7" transform="rotate(27.4 518 340.3)" fill="#ececec" stroke="#1c1c1c" stroke-width="1.45"/>
<path d="M365.9 787.6A2.1 5.1 27.2 0 1 370.6 778.5L374.6 780.6A2.1 5.1 27.2 0 1 369.9 789.7Z" fill="url(#g15)" stroke="#1c1c1c" stroke-width="1.45" stroke-linejoin="round"/><ellipse cx="372.3" cy="785.1" rx="2.1" ry="5.1" transform="rotate(27.2 372.3 785.1)" fill="#e4e4e4" stroke="#1c1c1c" stroke-width="1.45"/><path d="M369.2 791A2.6 6.6 27.2 0 1 375.3 779.3L377.1 780.2A2.6 6.6 27.2 0 1 371 791.9Z" fill="url(#g14)" stroke="#1c1c1c" stroke-width="1.45" stroke-linejoin="round"/><ellipse cx="374" cy="786" rx="2.6" ry="6.6" transform="rotate(27.2 374 786)" fill="#e4e4e4" stroke="#1c1c1c" stroke-width="1.45"/><path d="M372.6 788.9A1.3 3.2 27.2 0 1 375.5 783.2L416.8 804.5A1.3 3.2 27.2 0 1 413.8 810.1Z" fill="url(#g13)" stroke="#1c1c1c" stroke-width="1.45" stroke-linejoin="round"/><ellipse cx="415.3" cy="807.3" rx="1.3" ry="3.2" transform="rotate(27.2 415.3 807.3)" fill="#ececec" stroke="#1c1c1c" stroke-width="1.45"/>
<path d="M607.3 247.7A2.7 4.3 30.1 0 1 611.7 240.3L658.6 267.5A2.7 4.3 30.1 0 1 654.2 274.9Z" fill="url(#g16)" stroke="#1c1c1c" stroke-width="1.45" stroke-linejoin="round"/><ellipse cx="656.4" cy="271.2" rx="2.7" ry="4.3" transform="rotate(30.1 656.4 271.2)" fill="#e9e9e9" stroke="#1c1c1c" stroke-width="1.45"/><ellipse cx="656.4" cy="271.2" rx="1.6" ry="2.6" transform="rotate(30.1 656.4 271.2)" fill="#c9c9c9" stroke="#1c1c1c" stroke-width="1.16"/>
<path d="M551.9 365.1A2.5 4.1 28.1 0 1 555.7 357.9L603.9 383.6A2.5 4.1 28.1 0 1 600.1 390.8Z" fill="url(#g17)" stroke="#1c1c1c" stroke-width="1.45" stroke-linejoin="round"/><ellipse cx="602" cy="387.2" rx="2.5" ry="4.1" transform="rotate(28.1 602 387.2)" fill="#e9e9e9" stroke="#1c1c1c" stroke-width="1.45"/><ellipse cx="602" cy="387.2" rx="1.6" ry="2.5" transform="rotate(28.1 602 387.2)" fill="#c9c9c9" stroke="#1c1c1c" stroke-width="1.16"/>
<path d="M469.5 845.9A3 4.8 27.7 0 1 473.9 837.5L508.7 855.8A3 4.8 27.7 0 1 504.3 864.2Z" fill="url(#g18)" stroke="#1c1c1c" stroke-width="1.45" stroke-linejoin="round"/><ellipse cx="506.5" cy="860" rx="3" ry="4.8" transform="rotate(27.7 506.5 860)" fill="#e9e9e9" stroke="#1c1c1c" stroke-width="1.45"/><ellipse cx="506.5" cy="860" rx="1.8" ry="2.9" transform="rotate(27.7 506.5 860)" fill="#c9c9c9" stroke="#1c1c1c" stroke-width="1.16"/>
<path d="M534.4 110.8A4.7 7.6 27.7 0 1 541.5 97.3L545.9 99.7A4.7 7.6 27.7 0 1 538.9 113.1Z" fill="url(#g19)" stroke="#1c1c1c" stroke-width="1.45" stroke-linejoin="round"/><ellipse cx="542.4" cy="106.4" rx="4.7" ry="7.6" transform="rotate(27.7 542.4 106.4)" fill="#e0e0e0" stroke="#1c1c1c" stroke-width="1.45"/><path d="M539.8 111.4A3.5 5.6 27.7 0 1 545 101.4L549.4 103.8A3.5 5.6 27.7 0 1 544.2 113.7Z" fill="url(#g20)" stroke="#1c1c1c" stroke-width="1.45" stroke-linejoin="round"/><ellipse cx="546.8" cy="108.7" rx="3.5" ry="5.6" transform="rotate(27.7 546.8 108.7)" fill="#ececec" stroke="#1c1c1c" stroke-width="1.45"/><ellipse cx="546.8" cy="108.7" rx="2.5" ry="4" transform="rotate(27.7 546.8 108.7)" fill="#cfcfcf" stroke="#1c1c1c" stroke-width="1.16"/>
<path d="M383.3 307.9A4.3 7 27.7 0 1 389.8 295.5L394.3 297.8A4.3 7 27.7 0 1 387.7 310.2Z" fill="url(#g21)" stroke="#1c1c1c" stroke-width="1.45" stroke-linejoin="round"/><ellipse cx="391" cy="304" rx="4.3" ry="7" transform="rotate(27.7 391 304)" fill="#e0e0e0" stroke="#1c1c1c" stroke-width="1.45"/><path d="M388.6 308.6A3.2 5.2 27.7 0 1 393.4 299.4L397.8 301.7A3.2 5.2 27.7 0 1 393 310.9Z" fill="url(#g22)" stroke="#1c1c1c" stroke-width="1.45" stroke-linejoin="round"/><ellipse cx="395.4" cy="306.3" rx="3.2" ry="5.2" transform="rotate(27.7 395.4 306.3)" fill="#ececec" stroke="#1c1c1c" stroke-width="1.45"/><ellipse cx="395.4" cy="306.3" rx="2.2" ry="3.6" transform="rotate(27.7 395.4 306.3)" fill="#cfcfcf" stroke="#1c1c1c" stroke-width="1.16"/>
<path d="M579.6 236.9A4.5 7.2 27.7 0 1 586.3 224.2L589.9 226.1A4.5 7.2 27.7 0 1 583.2 238.8Z" fill="url(#g23)" stroke="#1c1c1c" stroke-width="1.45" stroke-linejoin="round"/><ellipse cx="586.5" cy="232.4" rx="4.5" ry="7.2" transform="rotate(27.7 586.5 232.4)" fill="#e0e0e0" stroke="#1c1c1c" stroke-width="1.45"/><path d="M583.6 238A3.9 6.3 27.7 0 1 589.4 226.9L594.8 229.6A3.9 6.3 27.7 0 1 588.9 240.8Z" fill="url(#g24)" stroke="#1c1c1c" stroke-width="1.45" stroke-linejoin="round"/><ellipse cx="591.8" cy="235.2" rx="3.9" ry="6.3" transform="rotate(27.7 591.8 235.2)" fill="#ececec" stroke="#1c1c1c" stroke-width="1.45"/><ellipse cx="591.8" cy="235.2" rx="2.9" ry="4.6" transform="rotate(27.7 591.8 235.2)" fill="#cfcfcf" stroke="#1c1c1c" stroke-width="1.16"/>
<path d="M530.1 356A4.6 7.4 27.7 0 1 537 342.9L540.6 344.8A4.6 7.4 27.7 0 1 533.7 357.9Z" fill="url(#g25)" stroke="#1c1c1c" stroke-width="1.45" stroke-linejoin="round"/><ellipse cx="537.1" cy="351.3" rx="4.6" ry="7.4" transform="rotate(27.7 537.1 351.3)" fill="#e0e0e0" stroke="#1c1c1c" stroke-width="1.45"/><path d="M534.1 357.1A4 6.5 27.7 0 1 540.1 345.6L545.4 348.4A4 6.5 27.7 0 1 539.4 359.9Z" fill="url(#g26)" stroke="#1c1c1c" stroke-width="1.45" stroke-linejoin="round"/><ellipse cx="542.4" cy="354.1" rx="4" ry="6.5" transform="rotate(27.7 542.4 354.1)" fill="#ececec" stroke="#1c1c1c" stroke-width="1.45"/><ellipse cx="542.4" cy="354.1" rx="3" ry="4.8" transform="rotate(27.7 542.4 354.1)" fill="#cfcfcf" stroke="#1c1c1c" stroke-width="1.16"/>
<path d="M611.1 401.5A4.2 6.8 27.7 0 1 617.4 389.4L620.1 390.8A4.2 6.8 27.7 0 1 613.8 402.9Z" fill="url(#g27)" stroke="#1c1c1c" stroke-width="1.45" stroke-linejoin="round"/><ellipse cx="616.9" cy="396.8" rx="4.2" ry="6.8" transform="rotate(27.7 616.9 396.8)" fill="#e0e0e0" stroke="#1c1c1c" stroke-width="1.45"/><path d="M614.3 401.9A3.5 5.7 27.7 0 1 619.6 391.8L624 394.1A3.5 5.7 27.7 0 1 618.7 404.2Z" fill="url(#g28)" stroke="#1c1c1c" stroke-width="1.45" stroke-linejoin="round"/><ellipse cx="621.3" cy="399.2" rx="3.5" ry="5.7" transform="rotate(27.7 621.3 399.2)" fill="#ececec" stroke="#1c1c1c" stroke-width="1.45"/><ellipse cx="621.3" cy="399.2" rx="2.6" ry="4.2" transform="rotate(27.7 621.3 399.2)" fill="#cfcfcf" stroke="#1c1c1c" stroke-width="1.16"/>
<path d="M672.1 288.2A4.2 6.8 27.7 0 1 678.4 276.1L681.1 277.5A4.2 6.8 27.7 0 1 674.8 289.6Z" fill="url(#g29)" stroke="#1c1c1c" stroke-width="1.45" stroke-linejoin="round"/><ellipse cx="677.9" cy="283.5" rx="4.2" ry="6.8" transform="rotate(27.7 677.9 283.5)" fill="#e0e0e0" stroke="#1c1c1c" stroke-width="1.45"/><path d="M675.3 288.6A3.5 5.7 27.7 0 1 680.6 278.5L685 280.8A3.5 5.7 27.7 0 1 679.7 290.9Z" fill="url(#g30)" stroke="#1c1c1c" stroke-width="1.45" stroke-linejoin="round"/><ellipse cx="682.3" cy="285.9" rx="3.5" ry="5.7" transform="rotate(27.7 682.3 285.9)" fill="#ececec" stroke="#1c1c1c" stroke-width="1.45"/><ellipse cx="682.3" cy="285.9" rx="2.6" ry="4.2" transform="rotate(27.7 682.3 285.9)" fill="#cfcfcf" stroke="#1c1c1c" stroke-width="1.16"/>
<path d="M448.6 839.6A6.1 9.8 27.7 0 1 457.7 822.3L461.2 824.1A6.1 9.8 27.7 0 1 452.1 841.5Z" fill="url(#g31)" stroke="#1c1c1c" stroke-width="1.45" stroke-linejoin="round"/><ellipse cx="456.7" cy="832.8" rx="6.1" ry="9.8" transform="rotate(27.7 456.7 832.8)" fill="#e0e0e0" stroke="#1c1c1c" stroke-width="1.45"/><path d="M453 839.9A5 8 27.7 0 1 460.4 825.7L466.6 829A5 8 27.7 0 1 459.1 843.1Z" fill="url(#g32)" stroke="#1c1c1c" stroke-width="1.45" stroke-linejoin="round"/><ellipse cx="462.9" cy="836.1" rx="5" ry="8" transform="rotate(27.7 462.9 836.1)" fill="#ececec" stroke="#1c1c1c" stroke-width="1.45"/><ellipse cx="462.9" cy="836.1" rx="3.4" ry="5.5" transform="rotate(27.7 462.9 836.1)" fill="#cfcfcf" stroke="#1c1c1c" stroke-width="1.16"/>
<path d="M511.8 871.3A4.2 6.8 28.4 0 1 518.2 859.3L523.2 862A4.2 6.8 28.4 0 1 516.8 874Z" fill="url(#g33)" stroke="#1c1c1c" stroke-width="1.45" stroke-linejoin="round"/><ellipse cx="520" cy="868" rx="4.2" ry="6.8" transform="rotate(28.4 520 868)" fill="#e0e0e0" stroke="#1c1c1c" stroke-width="1.45"/>
<path d="M516.2 876.1A5.7 9.2 28.2 0 1 524.8 859.9L527.6 861.4A5.7 9.2 28.2 0 1 519 877.6Z" fill="url(#g34)" stroke="#1c1c1c" stroke-width="1.45" stroke-linejoin="round"/><ellipse cx="523.3" cy="869.5" rx="5.7" ry="9.2" transform="rotate(28.2 523.3 869.5)" fill="#ececec" stroke="#1c1c1c" stroke-width="1.45"/><ellipse cx="523.3" cy="869.5" rx="3.1" ry="5" transform="rotate(28.2 523.3 869.5)" fill="#c9c9c9" stroke="#1c1c1c" stroke-width="1.16"/>
<path d="M572.6 906.1A4.7 7.5 27.7 0 1 579.6 892.8L583.1 894.7A4.7 7.5 27.7 0 1 576.1 908Z" fill="url(#g35)" stroke="#1c1c1c" stroke-width="1.45" stroke-linejoin="round"/><ellipse cx="579.6" cy="901.3" rx="4.7" ry="7.5" transform="rotate(27.7 579.6 901.3)" fill="#e0e0e0" stroke="#1c1c1c" stroke-width="1.45"/><path d="M577.6 905.1A2.7 4.3 27.7 0 1 581.6 897.5L586.9 900.3A2.7 4.3 27.7 0 1 582.9 907.9Z" fill="url(#g36)" stroke="#1c1c1c" stroke-width="1.45" stroke-linejoin="round"/><ellipse cx="584.9" cy="904.1" rx="2.7" ry="4.3" transform="rotate(27.7 584.9 904.1)" fill="#ececec" stroke="#1c1c1c" stroke-width="1.45"/><ellipse cx="584.9" cy="904.1" rx="2" ry="3.2" transform="rotate(27.7 584.9 904.1)" fill="#f4f4f4" stroke="#1c1c1c" stroke-width="1.16"/>
<path d="M706 307.6A4.2 6.8 27.7 0 1 712.4 295.6L717 299.5A3.4 5.4 27.7 0 1 712 309.2Z" fill="url(#g37)" stroke="#1c1c1c" stroke-width="1.45" stroke-linejoin="round"/><ellipse cx="714.5" cy="304.4" rx="3.4" ry="5.4" transform="rotate(27.7 714.5 304.4)" fill="#e4e4e4" stroke="#1c1c1c" stroke-width="1.45"/><ellipse cx="714.5" cy="304.4" rx="1.7" ry="2.7" transform="rotate(27.7 714.5 304.4)" fill="#f0f0f0" stroke="#1c1c1c" stroke-width="1.16"/>
<path d="M633.2 412.9A4.1 6.6 27.7 0 1 639.4 401.2L644.1 405.2A3.3 5.3 27.7 0 1 639.2 414.5Z" fill="url(#g38)" stroke="#1c1c1c" stroke-width="1.45" stroke-linejoin="round"/><ellipse cx="641.6" cy="409.9" rx="3.3" ry="5.3" transform="rotate(27.7 641.6 409.9)" fill="#e4e4e4" stroke="#1c1c1c" stroke-width="1.45"/><ellipse cx="641.6" cy="409.9" rx="1.6" ry="2.6" transform="rotate(27.7 641.6 409.9)" fill="#f0f0f0" stroke="#1c1c1c" stroke-width="1.16"/>
<path d="M419.6 824.1A6.8 10.9 27.7 0 1 429.7 804.8L435.4 807.9A6.8 10.9 27.7 0 1 425.3 827.2Z" fill="url(#g39)" stroke="#1c1c1c" stroke-width="1.45" stroke-linejoin="round"/><ellipse cx="430.4" cy="817.5" rx="6.8" ry="10.9" transform="rotate(27.7 430.4 817.5)" fill="#e6e6e6" stroke="#1c1c1c" stroke-width="1.45"/><ellipse cx="430.4" cy="817.5" rx="5.8" ry="9.3" transform="rotate(27.7 430.4 817.5)" fill="#f1f1f1" stroke="#1c1c1c" stroke-width="1.16"/><g clip-path="url(#c1039)"><ellipse cx="426.1" cy="815.2" rx="5.8" ry="9.3" transform="rotate(27.7 426.1 815.2)" fill="#d6d6d6" stroke="#1c1c1c" stroke-width="0.9"/></g><ellipse cx="430.4" cy="817.5" rx="5.8" ry="9.3" transform="rotate(27.7 430.4 817.5)" fill="none" stroke="#1c1c1c" stroke-width="0.9"/>
<path d="M547.6 898.1A7 11.3 27.7 0 1 558.1 878.1L563.4 880.9A7 11.3 27.7 0 1 552.9 900.9Z" fill="url(#g40)" stroke="#1c1c1c" stroke-width="1.45" stroke-linejoin="round"/><ellipse cx="558.2" cy="890.9" rx="7" ry="11.3" transform="rotate(27.7 558.2 890.9)" fill="#e6e6e6" stroke="#1c1c1c" stroke-width="1.45"/><ellipse cx="558.2" cy="890.9" rx="6" ry="9.7" transform="rotate(27.7 558.2 890.9)" fill="#f1f1f1" stroke="#1c1c1c" stroke-width="1.16"/><g clip-path="url(#c1041)"><ellipse cx="554.2" cy="888.8" rx="6" ry="9.7" transform="rotate(27.7 554.2 888.8)" fill="#d6d6d6" stroke="#1c1c1c" stroke-width="0.9"/></g><ellipse cx="558.2" cy="890.9" rx="6" ry="9.7" transform="rotate(27.7 558.2 890.9)" fill="none" stroke="#1c1c1c" stroke-width="0.9"/>
<ellipse cx="443" cy="825" rx="4.3" ry="7" transform="rotate(27.7 443 825)" fill="none" stroke="#1c1c1c" stroke-width="3.2"/><ellipse cx="443" cy="825" rx="4.3" ry="7" transform="rotate(27.7 443 825)" fill="none" stroke="#e8e8e8" stroke-width="1.4"/>
<ellipse cx="537.5" cy="878" rx="4.2" ry="6.8" transform="rotate(27.7 537.5 878)" fill="none" stroke="#1c1c1c" stroke-width="3.2"/><ellipse cx="537.5" cy="878" rx="4.2" ry="6.8" transform="rotate(27.7 537.5 878)" fill="none" stroke="#e8e8e8" stroke-width="1.4"/>
<path d="M332.6 818A4 13.4 -72.6 0 1 307 810L327.5 744.5A4 13.4 -72.6 0 1 353.1 752.5Z" fill="url(#g41)" stroke="#1c1c1c" stroke-width="1.45" stroke-linejoin="round"/><path d="M351.4 754.7A3.8 12.5 -72.6 0 1 327.6 747.3L372 605.3A3.8 12.5 -72.6 0 1 395.9 612.7Z" fill="url(#g42)" stroke="#1c1c1c" stroke-width="1.45" stroke-linejoin="round"/><path d="M396.7 612.4A4 13.2 -72.6 0 1 371.5 604.6L398 519.9A4 13.2 -72.6 0 1 423.2 527.7Z" fill="url(#g43)" stroke="#1c1c1c" stroke-width="1.45" stroke-linejoin="round"/><ellipse cx="410.6" cy="523.8" rx="4" ry="13.2" transform="rotate(-72.6 410.6 523.8)" fill="#d4d4d4" stroke="#1c1c1c" stroke-width="1.45"/><ellipse cx="410.6" cy="523.8" rx="3.2" ry="10.8" transform="rotate(-72.6 410.6 523.8)" fill="#bdbdbd" stroke="#1c1c1c" stroke-width="1.16"/><path d="M416.4 524.7A2.5 6.3 -73.9 0 1 404.2 521.3L405.5 516.8A2.5 6.3 -73.9 0 1 417.7 520.2Z" fill="url(#g44)" stroke="#1c1c1c" stroke-width="1.45" stroke-linejoin="round"/><ellipse cx="411.6" cy="518.5" rx="2.5" ry="6.3" transform="rotate(-73.9 411.6 518.5)" fill="#dcdcdc" stroke="#1c1c1c" stroke-width="1.45"/><path d="M415.8 520.8A1.8 4.5 -73.2 0 1 407.2 518.2L412 502.3A1.8 4.5 -73.2 0 1 420.6 504.9Z" fill="url(#g45)" stroke="#1c1c1c" stroke-width="1.45" stroke-linejoin="round"/><ellipse cx="416.3" cy="503.6" rx="1.8" ry="4.5" transform="rotate(-73.2 416.3 503.6)" fill="#ececec" stroke="#1c1c1c" stroke-width="1.45"/><path d="M325.6 567.5L327.5 564.4L332.5 562.9L340 564L366.3 570.6L382.5 566L376.9 586.9L375 590L378.1 600L378.1 607.5L375 615L371.3 620.6L366.9 618.8L343.8 587.5L341.9 583.8L327.5 573.8L325.6 570Z" fill="#e6e6e6" stroke="#1c1c1c" stroke-width="1.45" stroke-linejoin="round" stroke-linecap="round"/><path d="M343.8 587.5L375 591L378.1 600L378.1 607.5L371.3 620.6L366.9 618.8Z" fill="#d6d6d6" stroke="#1c1c1c" stroke-width="0.9" stroke-linejoin="round" stroke-linecap="round"/><path d="M366.3 570.6L377 589" fill="none" stroke="#1c1c1c" stroke-width="0.8" stroke-linejoin="round" stroke-linecap="round"/><ellipse cx="337.3" cy="569.8" rx="3" ry="1.2" transform="rotate(18 337.3 569.8)" fill="#fafafa" stroke="#1c1c1c" stroke-width="0.9"/><path d="M303.7 804.4L297.6 786L314.7 780.3A4.8 9.7 -18.4 0 1 320.8 798.7Z" fill="url(#g46)" stroke="#1c1c1c" stroke-width="1.45" stroke-linejoin="round"/><path d="M295.9 806.3A4.5 9 -18.4 0 1 290.2 789.2L298.5 785.7A4.8 9.7 -18.4 0 1 304.7 804.1Z" fill="url(#g47)" stroke="#1c1c1c" stroke-width="1.45" stroke-linejoin="round"/><path d="M278.3 810.4A3.7 7.4 -18.4 0 1 273.7 796.4L291.4 789.6A4.1 8.2 -18.4 0 1 296.6 805.2Z" fill="url(#g48)" stroke="#1c1c1c" stroke-width="1.45" stroke-linejoin="round"/><path d="M278.7 808.4L275.2 797.8L263.3 801.7A3.4 5.6 161.6 0 0 266.8 812.4Z" fill="url(#g49)" stroke="#1c1c1c" stroke-width="1.45" stroke-linejoin="round"/><ellipse cx="265.1" cy="807" rx="2.9" ry="4.7" transform="rotate(-18.4 265.1 807)" fill="#e8e8e8" stroke="#1c1c1c" stroke-width="1.45"/><path d="M317.4 837.9A2 4.9 -79.4 0 1 307.8 836.1L310.8 820.1A2 4.9 -79.4 0 1 320.4 821.9Z" fill="url(#g50)" stroke="#1c1c1c" stroke-width="1.45" stroke-linejoin="round"/><path d="M321.5 824A2.5 6.2 -80.9 0 1 309.3 822L310.1 817A2.5 6.2 -80.9 0 1 322.3 819Z" fill="url(#g51)" stroke="#1c1c1c" stroke-width="1.45" stroke-linejoin="round"/><path d="M309 736L322 735.7L324.2 737.3L323.8 745L312 741Z" fill="#bcbcbc" stroke="#1c1c1c" stroke-width="1.45" stroke-linejoin="round" stroke-linecap="round"/><path d="M319.3 787.2L343.7 777.4L338 800L322 806Z" fill="#c6c6c6" stroke="#1c1c1c" stroke-width="0.9" stroke-linejoin="round" stroke-linecap="round"/><path d="M306.3 737.9L309 736L332.3 749.8L336.1 752.5L337.5 756.8L336.1 761.7L332.9 763.3L329.6 762.8L325.8 766L323.6 770.9L324.2 779L325.8 780.1L342.1 774.7L344.2 775.8L343.7 777.4L319.3 787.2L317.2 795.8L319.3 803.9L335.6 813.7L338.3 813.1L339.9 809.9L343.7 808.3L348 810.4L350.2 815.3L349.1 827.2L346.9 831.6L343.1 832.6L339.9 831.6L308.5 813.1L302.5 808.8L301.4 805.6L303.1 785Z" fill="#e0e0e0" stroke="#1c1c1c" stroke-width="1.45" stroke-linejoin="round" stroke-linecap="round"/><ellipse cx="331" cy="756.8" rx="1.3" ry="2.2" transform="rotate(-20 331 756.8)" fill="#fafafa" stroke="#1c1c1c" stroke-width="0.9"/><ellipse cx="343.4" cy="815.5" rx="1.3" ry="2.2" transform="rotate(-20 343.4 815.5)" fill="#fafafa" stroke="#1c1c1c" stroke-width="0.9"/><path d="M295.9 806.3A4.5 9 -18.4 0 1 290.2 789.2L308.9 782A5 9.9 -18.4 0 1 315.2 800.8Z" fill="url(#g52)" stroke="#1c1c1c" stroke-width="1.45" stroke-linejoin="round"/><path d="M278.3 810.4A3.7 7.4 -18.4 0 1 273.7 796.4L291.4 789.6A4.1 8.2 -18.4 0 1 296.6 805.2Z" fill="url(#g53)" stroke="#1c1c1c" stroke-width="1.45" stroke-linejoin="round"/>
<path d="M822.7 525.3L826.7 522.7L830.7 523.3L853.3 538.7L856 545.3L853.3 550L846.7 550.7L841.3 560L840.7 568.7L824 574.7Z" fill="#dadada" stroke="#1c1c1c" stroke-width="1.45" stroke-linejoin="round" stroke-linecap="round"/><ellipse cx="850.4" cy="544" rx="1.6" ry="2.6" transform="rotate(-15 850.4 544)" fill="#fafafa" stroke="#1c1c1c" stroke-width="0.9"/><path d="M843.1 580.1L838.9 565.9L866.2 558.8A2.9 6.5 -16.5 0 1 869.8 571.2Z" fill="url(#g54)" stroke="#1c1c1c" stroke-width="1.45" stroke-linejoin="round"/><path d="M851.5 563.3Q854.5 569 853 577M858 561.3Q861 567 859.5 574.5" fill="none" stroke="#1c1c1c" stroke-width="1.1" stroke-linejoin="round" stroke-linecap="round"/><path d="M869.1 571.7L865.9 558.9L879.7 556.9A2.6 5.3 -13.7 0 1 882.3 567.1Z" fill="url(#g55)" stroke="#1c1c1c" stroke-width="1.45" stroke-linejoin="round"/><path d="M829.3 594.7L838.7 591.3L853.3 600.7L858 596L864 595.3L868 600L866.7 616L861.3 620L830.7 602.7Z" fill="#dcdcdc" stroke="#1c1c1c" stroke-width="1.45" stroke-linejoin="round" stroke-linecap="round"/><ellipse cx="862" cy="602.3" rx="1.6" ry="2.6" transform="rotate(-15 862 602.3)" fill="#fafafa" stroke="#1c1c1c" stroke-width="0.9"/><path d="M815.6 629.4A1.8 4.6 -95.1 0 0 824.8 628.6L823.9 618.6A1.8 4.6 -95.1 0 0 814.7 619.4Z" fill="url(#g56)" stroke="#1c1c1c" stroke-width="1.45" stroke-linejoin="round"/><path d="M803.3 618.1A4.6 13.2 -94.9 0 0 829.6 615.9L824.3 552.9A4 13.2 -94.9 0 0 798 555.1Z" fill="url(#g57)" stroke="#1c1c1c" stroke-width="1.45" stroke-linejoin="round"/><path d="M799.2 557A3.6 12.1 -94.9 0 0 823.4 555L813.2 435A3.6 12.1 -94.9 0 0 789 437Z" fill="url(#g58)" stroke="#1c1c1c" stroke-width="1.45" stroke-linejoin="round"/><path d="M788 438.6A4 13.3 -94.9 0 0 814.5 436.4L808.7 368.9A4 13.3 -94.9 0 0 782.2 371.1Z" fill="url(#g59)" stroke="#1c1c1c" stroke-width="1.45" stroke-linejoin="round"/><path d="M756.7 387.3L760 383.3L768 382.7L782.7 390L784 420.7L780 420L765.3 402L757.3 392.7Z" fill="#e2e2e2" stroke="#1c1c1c" stroke-width="1.45" stroke-linejoin="round" stroke-linecap="round"/><path d="M766.7 402L782.7 400.7L784 420.7L780 420Z" fill="#bdbdbd" stroke="#1c1c1c" stroke-width="0.9" stroke-linejoin="round" stroke-linecap="round"/><ellipse cx="767.3" cy="388.7" rx="2.6" ry="1.2" transform="rotate(15 767.3 388.7)" fill="#fafafa" stroke="#1c1c1c" stroke-width="0.9"/><path d="M779.8 373.6A7.9 15.8 -94.2 0 0 811.4 371.4L811 365.9A7.9 15.8 -94.2 0 0 779.4 368.1Z" fill="url(#g60)" stroke="#1c1c1c" stroke-width="1.45" stroke-linejoin="round"/><path d="M778.4 369.6A8.5 17 -95.5 0 0 812.2 366.4L811.3 357.1A8.5 17 -95.5 0 0 777.5 360.3Z" fill="url(#g61)" stroke="#1c1c1c" stroke-width="1.45" stroke-linejoin="round"/><ellipse cx="794.4" cy="358.7" rx="8.5" ry="17" transform="rotate(-95.5 794.4 358.7)" fill="#d8d8d8" stroke="#1c1c1c" stroke-width="1.45"/><ellipse cx="794.4" cy="358.7" rx="14" ry="7" fill="#c8c8c8" stroke="#1c1c1c" stroke-width="1"/><ellipse cx="794.2" cy="358.2" rx="10.5" ry="5.2" fill="#b8b8b8" stroke="#1c1c1c" stroke-width="1"/><path d="M788.4 357.9A2.4 5.6 -94.1 0 0 799.6 357.1L798.6 343.1A2.4 5.6 -94.1 0 0 787.4 343.9Z" fill="url(#g62)" stroke="#1c1c1c" stroke-width="1.45" stroke-linejoin="round"/><ellipse cx="793" cy="343.5" rx="2.4" ry="5.6" transform="rotate(-94.1 793 343.5)" fill="#e2e2e2" stroke="#1c1c1c" stroke-width="1.45"/><path d="M822 575.3L841.3 568.7L842 588.7L824 595.3Z" fill="#d6d6d6" stroke="#1c1c1c" stroke-width="1.45" stroke-linejoin="round" stroke-linecap="round"/>
<path d="M441.5 90.1Q460.1 101.3 475.6 117.7" fill="none" stroke="#1c1c1c" stroke-width="6.8" stroke-linecap="round" stroke-linejoin="round"/><path d="M441.5 90.1Q460.1 101.3 475.6 117.7" fill="none" stroke="#d2d2d2" stroke-width="3.8" stroke-linecap="round" stroke-linejoin="round"/><path d="M432.4 105.6Q450.8 117.2 466.1 134" fill="none" stroke="#1c1c1c" stroke-width="6.8" stroke-linecap="round" stroke-linejoin="round"/><path d="M432.4 105.6Q450.8 117.2 466.1 134" fill="none" stroke="#d2d2d2" stroke-width="3.8" stroke-linecap="round" stroke-linejoin="round"/><path d="M422.6 121.5Q441.1 133.3 456.6 150.3" fill="none" stroke="#1c1c1c" stroke-width="6.8" stroke-linecap="round" stroke-linejoin="round"/><path d="M422.6 121.5Q441.1 133.3 456.6 150.3" fill="none" stroke="#d2d2d2" stroke-width="3.8" stroke-linecap="round" stroke-linejoin="round"/><path d="M412.8 137.4Q431.5 149.4 447.1 166.6" fill="none" stroke="#1c1c1c" stroke-width="6.8" stroke-linecap="round" stroke-linejoin="round"/><path d="M412.8 137.4Q431.5 149.4 447.1 166.6" fill="none" stroke="#d2d2d2" stroke-width="3.8" stroke-linecap="round" stroke-linejoin="round"/><path d="M403 153.3Q421.6 164.6 437.2 181" fill="none" stroke="#1c1c1c" stroke-width="6.8" stroke-linecap="round" stroke-linejoin="round"/><path d="M403 153.3Q421.6 164.6 437.2 181" fill="none" stroke="#d2d2d2" stroke-width="3.8" stroke-linecap="round" stroke-linejoin="round"/><path d="M397.6 170.6Q410.8 180 421 194.5" fill="none" stroke="#1c1c1c" stroke-width="6.8" stroke-linecap="round" stroke-linejoin="round"/><path d="M397.6 170.6Q410.8 180 421 194.5" fill="none" stroke="#d2d2d2" stroke-width="3.8" stroke-linecap="round" stroke-linejoin="round"/><path d="M460.5 78Q471.8 87.4 481.1 100.3" fill="none" stroke="#1c1c1c" stroke-width="6.8" stroke-linecap="round" stroke-linejoin="round"/><path d="M460.5 78Q471.8 87.4 481.1 100.3" fill="none" stroke="#d2d2d2" stroke-width="3.8" stroke-linecap="round" stroke-linejoin="round"/><path d="M436.6 149.4L430.2 145.6L474.3 71.8A1.3 3.7 -59.1 0 1 480.7 75.6Z" fill="url(#g63)" stroke="#1c1c1c" stroke-width="1.45" stroke-linejoin="round"/><path d="M370.1 277.4A3.4 12.3 -59.1 0 1 349 264.8L424.9 137.8A3.4 12.3 -59.1 0 1 446 150.4Z" fill="url(#g64)" stroke="#1c1c1c" stroke-width="1.45" stroke-linejoin="round"/><ellipse cx="435.5" cy="144.1" rx="3.4" ry="12.3" transform="rotate(-59.1 435.5 144.1)" fill="#e2e2e2" stroke="#1c1c1c" stroke-width="1.45"/><path d="M463.9 116.8A3.1 10.4 -59.1 0 1 446 106.2L451.4 94.8A3.5 11.6 -59.1 0 1 471.3 106.7Z" fill="url(#g65)" stroke="#1c1c1c" stroke-width="1.45" stroke-linejoin="round"/><ellipse cx="461.4" cy="100.8" rx="3.5" ry="11.6" transform="rotate(-59.1 461.4 100.8)" fill="#ececec" stroke="#1c1c1c" stroke-width="1.45"/><path d="M463.3 104.8L456.9 101L467.2 83.9A1.3 3.7 -59.1 0 1 473.5 87.7Z" fill="url(#g66)" stroke="#1c1c1c" stroke-width="1.45" stroke-linejoin="round"/><path d="M345.5 266.2L370.6 224.1L376.6 223.1L377 230.3L380.9 231.5L379.9 239L383.8 240.2L382.3 248.6L387.8 247.2L392.6 244.3L370.5 281.2C363.5 289.8 341.2 276.4 345.5 266.2Z" fill="url(#g67)" stroke="#1c1c1c" stroke-width="1.45" stroke-linejoin="round" stroke-linecap="round"/><path d="M376 213.4L378.1 214.7L372 225L369.8 223.7Z" fill="#dcdcdc" stroke="#1c1c1c" stroke-width="0.9" stroke-linejoin="round" stroke-linecap="round"/><path d="M396.8 228.2L400.7 230.5L391.5 245.9L387.6 243.6Z" fill="#dcdcdc" stroke="#1c1c1c" stroke-width="0.9" stroke-linejoin="round" stroke-linecap="round"/><ellipse cx="392.4" cy="216.2" rx="17.2" ry="3.4" transform="rotate(30.9 392.4 216.2)" fill="none" stroke="#1c1c1c" stroke-width="2.6"/><ellipse cx="392.4" cy="216.2" rx="17.2" ry="3.4" transform="rotate(30.9 392.4 216.2)" fill="none" stroke="#dcdcdc" stroke-width="0.9"/><g clip-path="url(#cl_sl)"><path d="M370.1 277.4A3.4 12.3 -59.1 0 1 349 264.8L408.5 165.2A3.4 12.3 -59.1 0 1 429.6 177.9Z" fill="url(#g68)" stroke="#1c1c1c" stroke-width="0" stroke-linejoin="round"/></g><path d="M399.5 188Q409.2 193 421 194.5" fill="none" stroke="#1c1c1c" stroke-width="6.8" stroke-linecap="round" stroke-linejoin="round"/><path d="M399.5 188Q409.2 193 421 194.5" fill="none" stroke="#e6e6e6" stroke-width="3.8" stroke-linecap="round" stroke-linejoin="round"/><path d="M399.5 188Q409.2 193 421 194.5" fill="none" stroke="#f4f4f4" stroke-width="1.5" stroke-linecap="round" stroke-linejoin="round"/><path d="M468 73A6.6 10 38.7 0 1 480.4 57.4L490.4 65.4A6.6 10 38.7 0 1 478 81Z" fill="url(#g69)" stroke="#1c1c1c" stroke-width="1.45" stroke-linejoin="round"/><ellipse cx="484.2" cy="73.2" rx="6.6" ry="10" transform="rotate(38.7 484.2 73.2)" fill="#e9e9e9" stroke="#1c1c1c" stroke-width="1.45"/><ellipse cx="484.6" cy="73.6" rx="3.9" ry="5.9" transform="rotate(37 484.6 73.6)" fill="#dedede" stroke="#1c1c1c" stroke-width="1"/><ellipse cx="485" cy="73.9" rx="2.3" ry="3.5" transform="rotate(37 485 73.9)" fill="#fafafa" stroke="#1c1c1c" stroke-width="1"/><path d="M343 290.4A7 10 25.2 0 1 351.6 272.2L361.6 276.9A7 10 25.2 0 1 353 295.1Z" fill="url(#g70)" stroke="#1c1c1c" stroke-width="1.45" stroke-linejoin="round"/><ellipse cx="357.3" cy="286" rx="7" ry="10" transform="rotate(25.2 357.3 286)" fill="#e9e9e9" stroke="#1c1c1c" stroke-width="1.45"/><ellipse cx="357.5" cy="286.1" rx="4.6" ry="6.6" transform="rotate(25 357.5 286.1)" fill="#dedede" stroke="#1c1c1c" stroke-width="1"/><ellipse cx="357.8" cy="286.3" rx="2.6" ry="3.8" transform="rotate(25 357.8 286.3)" fill="#fafafa" stroke="#1c1c1c" stroke-width="1"/><path d="M459.5 77.5Q470 84.5 483 82.6" fill="none" stroke="#1c1c1c" stroke-width="6.8" stroke-linecap="round" stroke-linejoin="round"/><path d="M459.5 77.5Q470 84.5 483 82.6" fill="none" stroke="#e0e0e0" stroke-width="3.8" stroke-linecap="round" stroke-linejoin="round"/><path d="M459.5 77.5Q470 84.5 483 82.6" fill="none" stroke="#efefef" stroke-width="1.5" stroke-linecap="round" stroke-linejoin="round"/><path d="M441.5 90.1Q460.7 96.2 481.1 100.3" fill="none" stroke="#1c1c1c" stroke-width="6.8" stroke-linecap="round" stroke-linejoin="round"/><path d="M441.5 90.1Q460.7 96.2 481.1 100.3" fill="none" stroke="#e6e6e6" stroke-width="3.8" stroke-linecap="round" stroke-linejoin="round"/><path d="M441.5 90.1Q460.7 96.2 481.1 100.3" fill="none" stroke="#f4f4f4" stroke-width="1.5" stroke-linecap="round" stroke-linejoin="round"/><path d="M432.4 105.6Q453.4 112.7 475.6 117.7" fill="none" stroke="#1c1c1c" stroke-width="6.8" stroke-linecap="round" stroke-linejoin="round"/><path d="M432.4 105.6Q453.4 112.7 475.6 117.7" fill="none" stroke="#e6e6e6" stroke-width="3.8" stroke-linecap="round" stroke-linejoin="round"/><path d="M432.4 105.6Q453.4 112.7 475.6 117.7" fill="none" stroke="#f4f4f4" stroke-width="1.5" stroke-linecap="round" stroke-linejoin="round"/><path d="M422.6 121.5Q443.7 128.8 466.1 134" fill="none" stroke="#1c1c1c" stroke-width="6.8" stroke-linecap="round" stroke-linejoin="round"/><path d="M422.6 121.5Q443.7 128.8 466.1 134" fill="none" stroke="#e6e6e6" stroke-width="3.8" stroke-linecap="round" stroke-linejoin="round"/><path d="M422.6 121.5Q443.7 128.8 466.1 134" fill="none" stroke="#f4f4f4" stroke-width="1.5" stroke-linecap="round" stroke-linejoin="round"/><path d="M412.8 137.4Q434.1 144.9 456.6 150.3" fill="none" stroke="#1c1c1c" stroke-width="6.8" stroke-linecap="round" stroke-linejoin="round"/><path d="M412.8 137.4Q434.1 144.9 456.6 150.3" fill="none" stroke="#e6e6e6" stroke-width="3.8" stroke-linecap="round" stroke-linejoin="round"/><path d="M412.8 137.4Q434.1 144.9 456.6 150.3" fill="none" stroke="#f4f4f4" stroke-width="1.5" stroke-linecap="round" stroke-linejoin="round"/><path d="M403 153.3Q424.4 161 447.1 166.6" fill="none" stroke="#1c1c1c" stroke-width="6.8" stroke-linecap="round" stroke-linejoin="round"/><path d="M403 153.3Q424.4 161 447.1 166.6" fill="none" stroke="#e6e6e6" stroke-width="3.8" stroke-linecap="round" stroke-linejoin="round"/><path d="M403 153.3Q424.4 161 447.1 166.6" fill="none" stroke="#f4f4f4" stroke-width="1.5" stroke-linecap="round" stroke-linejoin="round"/><path d="M397.6 170.6Q416.8 176.8 437.2 181" fill="none" stroke="#1c1c1c" stroke-width="6.8" stroke-linecap="round" stroke-linejoin="round"/><path d="M397.6 170.6Q416.8 176.8 437.2 181" fill="none" stroke="#e6e6e6" stroke-width="3.8" stroke-linecap="round" stroke-linejoin="round"/><path d="M397.6 170.6Q416.8 176.8 437.2 181" fill="none" stroke="#f4f4f4" stroke-width="1.5" stroke-linecap="round" stroke-linejoin="round"/>
<path d="M818 104.6L817.1 105L816.2 105.5L815.3 106.1L814.5 106.7L813.7 107.3L812.9 108L812.2 108.7L811.6 109.4L811 110.1L810.4 110.9L809.9 111.7L809.5 112.5L809.2 113.3L808.9 114.2L808.7 115L808.5 115.8L808.5 116.7L808.5 117.5L808.6 118.3L808.8 119.2L809 120L809.4 120.8L809.8 121.5L810.3 122.3" fill="none" stroke="#1c1c1c" stroke-width="7.2" stroke-linecap="round" stroke-linejoin="round"/><path d="M818 104.6L817.1 105L816.2 105.5L815.3 106.1L814.5 106.7L813.7 107.3L812.9 108L812.2 108.7L811.6 109.4L811 110.1L810.4 110.9L809.9 111.7L809.5 112.5L809.2 113.3L808.9 114.2L808.7 115L808.5 115.8L808.5 116.7L808.5 117.5L808.6 118.3L808.8 119.2L809 120L809.4 120.8L809.8 121.5L810.3 122.3" fill="none" stroke="#e4e4e4" stroke-width="4" stroke-linecap="round" stroke-linejoin="round"/><path d="M844.8 119.3L844.4 118.2L843.7 117.2L842.6 116.4L841.2 115.7L839.6 115.2L837.7 114.8L835.6 114.7L833.3 114.8L830.9 115.1L828.5 115.7L826 116.5L823.6 117.5L821.3 118.6L819.2 120L817.2 121.6L815.5 123.3L814.1 125.1L813 127L812.3 128.9L811.9 130.9L811.9 132.9L812.3 134.8L813 136.7L814.2 138.4" fill="none" stroke="#1c1c1c" stroke-width="7.2" stroke-linecap="round" stroke-linejoin="round"/><path d="M844.8 119.3L844.4 118.2L843.7 117.2L842.6 116.4L841.2 115.7L839.6 115.2L837.7 114.8L835.6 114.7L833.3 114.8L830.9 115.1L828.5 115.7L826 116.5L823.6 117.5L821.3 118.6L819.2 120L817.2 121.6L815.5 123.3L814.1 125.1L813 127L812.3 128.9L811.9 130.9L811.9 132.9L812.3 134.8L813 136.7L814.2 138.4" fill="none" stroke="#e4e4e4" stroke-width="4" stroke-linecap="round" stroke-linejoin="round"/><path d="M853.6 133.3L853.2 132L852.3 130.8L851.1 129.8L849.5 128.9L847.6 128.2L845.4 127.7L843 127.5L840.4 127.5L837.8 127.8L835 128.3L832.2 129.1L829.5 130.1L826.9 131.4L824.5 132.9L822.3 134.5L820.4 136.3L818.8 138.3L817.6 140.3L816.7 142.4L816.3 144.5L816.3 146.6L816.7 148.7L817.6 150.7L818.8 152.5" fill="none" stroke="#1c1c1c" stroke-width="7.2" stroke-linecap="round" stroke-linejoin="round"/><path d="M853.6 133.3L853.2 132L852.3 130.8L851.1 129.8L849.5 128.9L847.6 128.2L845.4 127.7L843 127.5L840.4 127.5L837.8 127.8L835 128.3L832.2 129.1L829.5 130.1L826.9 131.4L824.5 132.9L822.3 134.5L820.4 136.3L818.8 138.3L817.6 140.3L816.7 142.4L816.3 144.5L816.3 146.6L816.7 148.7L817.6 150.7L818.8 152.5" fill="none" stroke="#e4e4e4" stroke-width="4" stroke-linecap="round" stroke-linejoin="round"/><path d="M861.9 145.5L861.4 144.1L860.4 142.7L858.9 141.5L857.1 140.6L855 139.8L852.6 139.3L850 139L847.1 139L844.2 139.3L841.2 139.8L838.1 140.7L835.2 141.7L832.4 143.1L829.8 144.6L827.5 146.4L825.4 148.3L823.7 150.3L822.4 152.4L821.5 154.6L821 156.9L821 159L821.5 161.2L822.3 163.2L823.7 165.1" fill="none" stroke="#1c1c1c" stroke-width="7.2" stroke-linecap="round" stroke-linejoin="round"/><path d="M861.9 145.5L861.4 144.1L860.4 142.7L858.9 141.5L857.1 140.6L855 139.8L852.6 139.3L850 139L847.1 139L844.2 139.3L841.2 139.8L838.1 140.7L835.2 141.7L832.4 143.1L829.8 144.6L827.5 146.4L825.4 148.3L823.7 150.3L822.4 152.4L821.5 154.6L821 156.9L821 159L821.5 161.2L822.3 163.2L823.7 165.1" fill="none" stroke="#e4e4e4" stroke-width="4" stroke-linecap="round" stroke-linejoin="round"/><path d="M868.2 157.2L867.6 155.7L866.5 154.3L865 153.1L863.2 152L861 151.2L858.5 150.7L855.8 150.4L852.9 150.4L849.9 150.7L846.8 151.2L843.7 152L840.7 153.1L837.9 154.5L835.3 156L832.9 157.8L830.8 159.7L829.1 161.7L827.8 163.9L826.9 166.1L826.4 168.3L826.4 170.5L826.9 172.7L827.8 174.7L829.2 176.6" fill="none" stroke="#1c1c1c" stroke-width="7.2" stroke-linecap="round" stroke-linejoin="round"/><path d="M868.2 157.2L867.6 155.7L866.5 154.3L865 153.1L863.2 152L861 151.2L858.5 150.7L855.8 150.4L852.9 150.4L849.9 150.7L846.8 151.2L843.7 152L840.7 153.1L837.9 154.5L835.3 156L832.9 157.8L830.8 159.7L829.1 161.7L827.8 163.9L826.9 166.1L826.4 168.3L826.4 170.5L826.9 172.7L827.8 174.7L829.2 176.6" fill="none" stroke="#e4e4e4" stroke-width="4" stroke-linecap="round" stroke-linejoin="round"/><path d="M874 168.2L873.4 166.7L872.4 165.3L870.9 164.1L869.1 163L866.9 162.2L864.4 161.6L861.7 161.3L858.8 161.3L855.8 161.6L852.8 162.1L849.7 162.9L846.7 164L843.9 165.3L841.3 166.8L838.9 168.6L836.9 170.5L835.2 172.5L833.9 174.7L833 176.8L832.5 179L832.6 181.2L833 183.3L834 185.4L835.4 187.2" fill="none" stroke="#1c1c1c" stroke-width="7.2" stroke-linecap="round" stroke-linejoin="round"/><path d="M874 168.2L873.4 166.7L872.4 165.3L870.9 164.1L869.1 163L866.9 162.2L864.4 161.6L861.7 161.3L858.8 161.3L855.8 161.6L852.8 162.1L849.7 162.9L846.7 164L843.9 165.3L841.3 166.8L838.9 168.6L836.9 170.5L835.2 172.5L833.9 174.7L833 176.8L832.5 179L832.6 181.2L833 183.3L834 185.4L835.4 187.2" fill="none" stroke="#e4e4e4" stroke-width="4" stroke-linecap="round" stroke-linejoin="round"/><path d="M879.6 178.4L878.9 176.9L877.8 175.5L876.3 174.3L874.5 173.3L872.4 172.5L870 171.9L867.4 171.6L864.6 171.6L861.7 171.9L858.8 172.4L855.9 173.1L853.2 174.1L850.5 175.4L848.1 176.8L846 178.4L844.1 180.2L842.6 182L841.4 184L840.7 186L840.3 187.9L840.4 189.9L840.9 191.8L841.8 193.6L843.1 195.2" fill="none" stroke="#1c1c1c" stroke-width="7.2" stroke-linecap="round" stroke-linejoin="round"/><path d="M879.6 178.4L878.9 176.9L877.8 175.5L876.3 174.3L874.5 173.3L872.4 172.5L870 171.9L867.4 171.6L864.6 171.6L861.7 171.9L858.8 172.4L855.9 173.1L853.2 174.1L850.5 175.4L848.1 176.8L846 178.4L844.1 180.2L842.6 182L841.4 184L840.7 186L840.3 187.9L840.4 189.9L840.9 191.8L841.8 193.6L843.1 195.2" fill="none" stroke="#e4e4e4" stroke-width="4" stroke-linecap="round" stroke-linejoin="round"/><path d="M882.3 186.9L882.2 186.6L882.1 186.4L882 186.1L881.9 185.9L881.8 185.7L881.6 185.4L881.5 185.2L881.3 185L881.2 184.8L881 184.5L880.8 184.3L880.6 184.1L880.4 183.9L880.1 183.7L879.9 183.5L879.6 183.4L879.4 183.2L879.1 183L878.8 182.8L878.6 182.7L878.3 182.5L878 182.4L877.6 182.2L877.3 182.1" fill="none" stroke="#1c1c1c" stroke-width="7.2" stroke-linecap="round" stroke-linejoin="round"/><path d="M882.3 186.9L882.2 186.6L882.1 186.4L882 186.1L881.9 185.9L881.8 185.7L881.6 185.4L881.5 185.2L881.3 185L881.2 184.8L881 184.5L880.8 184.3L880.6 184.1L880.4 183.9L880.1 183.7L879.9 183.5L879.6 183.4L879.4 183.2L879.1 183L878.8 182.8L878.6 182.7L878.3 182.5L878 182.4L877.6 182.2L877.3 182.1" fill="none" stroke="#e4e4e4" stroke-width="4" stroke-linecap="round" stroke-linejoin="round"/><path d="M863.4 197.1A5.9 9.5 -120 0 0 879.8 187.6L841.8 121.8A5.9 9.5 -120 0 0 825.4 131.3Z" fill="url(#g71)" stroke="#1c1c1c" stroke-width="1.45" stroke-linejoin="round"/><path d="M832.8 145.5A6.3 10.2 -120 0 0 850.4 135.3L839.4 116.2A6.3 10.2 -120 0 0 821.8 126.4Z" fill="url(#g72)" stroke="#1c1c1c" stroke-width="1.45" stroke-linejoin="round"/><ellipse cx="830.6" cy="121.3" rx="6.3" ry="10.2" transform="rotate(-120 830.6 121.3)" fill="#e4e4e4" stroke="#1c1c1c" stroke-width="1.45"/><path d="M819.3 124.2A5.5 11 -142.5 0 0 832.7 106.8L829.7 104.5A5.5 11 -142.5 0 0 816.3 121.9Z" fill="url(#g73)" stroke="#1c1c1c" stroke-width="1.45" stroke-linejoin="round"/><ellipse cx="823" cy="113.2" rx="5.5" ry="11" transform="rotate(-142.5 823 113.2)" fill="#e2e2e2" stroke="#1c1c1c" stroke-width="1.45"/><path d="M817.2 120.9A4.8 9.6 -143.1 0 0 828.8 105.5L817.6 97.1A4.8 9.6 -143.1 0 0 806 112.5Z" fill="url(#g74)" stroke="#1c1c1c" stroke-width="1.45" stroke-linejoin="round"/><ellipse cx="811.8" cy="104.8" rx="4.8" ry="9.6" transform="rotate(-143.1 811.8 104.8)" fill="#e6e6e6" stroke="#1c1c1c" stroke-width="1.45"/><ellipse cx="811.8" cy="104.8" rx="3.6" ry="7.2" transform="rotate(36.9 811.8 104.8)" fill="#d4d4d4" stroke="#1c1c1c" stroke-width="1"/><path d="M808.6 109.4A2.8 5.6 -142.6 0 0 815.4 100.6L808.6 95.4A2.8 5.6 -142.6 0 0 801.8 104.2Z" fill="url(#g75)" stroke="#1c1c1c" stroke-width="1.45" stroke-linejoin="round"/><ellipse cx="805.2" cy="99.8" rx="2.8" ry="5.6" transform="rotate(-142.6 805.2 99.8)" fill="#dcdcdc" stroke="#1c1c1c" stroke-width="1.45"/><ellipse cx="805.2" cy="99.8" rx="1.8" ry="3.6" transform="rotate(36.9 805.2 99.8)" fill="#c8c8c8" stroke="#1c1c1c" stroke-width="1"/><path d="M895.2 249.2A3.2 6.5 16 0 1 898.8 236.8L906.8 239.1A3.2 6.5 16 0 1 903.2 251.5Z" fill="url(#g76)" stroke="#1c1c1c" stroke-width="1.45" stroke-linejoin="round"/><path d="M902.9 251.9A3.6 7.2 16.7 0 1 907.1 238.1L910.1 239A3.6 7.2 16.7 0 1 905.9 252.8Z" fill="url(#g77)" stroke="#1c1c1c" stroke-width="1.45" stroke-linejoin="round"/><ellipse cx="908" cy="245.9" rx="3.6" ry="7.2" transform="rotate(16.7 908 245.9)" fill="#e8e8e8" stroke="#1c1c1c" stroke-width="1.45"/><path d="M906.4 251.6A2.9 5.8 16.3 0 1 909.6 240.4L917.1 242.6A2.9 5.8 16.3 0 1 913.9 253.8Z" fill="url(#g78)" stroke="#1c1c1c" stroke-width="1.45" stroke-linejoin="round"/><ellipse cx="915.5" cy="248.2" rx="2.9" ry="5.8" transform="rotate(16.3 915.5 248.2)" fill="#e8e8e8" stroke="#1c1c1c" stroke-width="1.45"/><path d="M914.5 251.9A1.9 3.8 14.9 0 1 916.5 244.5L921 245.7A1.9 3.8 14.9 0 1 919 253.1Z" fill="url(#g79)" stroke="#1c1c1c" stroke-width="1.45" stroke-linejoin="round"/><ellipse cx="920" cy="249.4" rx="1.9" ry="3.8" transform="rotate(14.9 920 249.4)" fill="#f0f0f0" stroke="#1c1c1c" stroke-width="1.45"/><path d="M861.9 200.3L885.1 238.8Q890.1 246.3 900.6 242.6Q909.1 235.3 905.1 227.2L883.3 187.9Z" fill="url(#g80)" stroke="#1c1c1c" stroke-width="1.45" stroke-linejoin="round" stroke-linecap="round"/><path d="M884.5 238Q900.1 241.7 904.7 226.3" fill="none" stroke="#1c1c1c" stroke-width="1" stroke-linejoin="round" stroke-linecap="round"/><path d="M867.8 213A8.4 13.6 -120 0 0 891.4 199.4L884.4 187.3A8.4 13.6 -120 0 0 860.8 200.9Z" fill="url(#g81)" stroke="#1c1c1c" stroke-width="1.45" stroke-linejoin="round"/><ellipse cx="875.1" cy="198.4" rx="9.9" ry="16" transform="rotate(60 875.1 198.4)" fill="none" stroke="#1c1c1c" stroke-width="4.6"/><ellipse cx="875.1" cy="198.4" rx="9.9" ry="16" transform="rotate(60 875.1 198.4)" fill="none" stroke="#ececec" stroke-width="1.8" stroke-dasharray="9 2.5"/><path d="M864.4 198.8L880.8 189.3L870.8 172A5.9 9.5 -120 0 0 854.4 181.5Z" fill="url(#g82)" stroke="#1c1c1c" stroke-width="0" stroke-linejoin="round"/><path d="M863.4 197.1L854.4 181.5M877.8 184.1L870.8 172" fill="none" stroke="#1c1c1c" stroke-width="1.1" stroke-linejoin="round" stroke-linecap="round"/><path d="M808.8 119.3L809.4 120.9L810.4 122.4L811.6 123.8L813.1 125.1L814.8 126.2L816.8 127.2L819 127.9L821.3 128.5L823.7 128.9L826.2 129.1L828.8 129.1L831.3 128.8L833.7 128.4L835.9 127.8L838 127L839.9 126.1L841.5 125.1L842.8 124L843.8 122.9L844.5 121.7L844.8 120.5L844.8 119.4L844.5 118.3L843.8 117.4" fill="none" stroke="#1c1c1c" stroke-width="7.2" stroke-linecap="round" stroke-linejoin="round"/><path d="M808.8 119.3L809.4 120.9L810.4 122.4L811.6 123.8L813.1 125.1L814.8 126.2L816.8 127.2L819 127.9L821.3 128.5L823.7 128.9L826.2 129.1L828.8 129.1L831.3 128.8L833.7 128.4L835.9 127.8L838 127L839.9 126.1L841.5 125.1L842.8 124L843.8 122.9L844.5 121.7L844.8 120.5L844.8 119.4L844.5 118.3L843.8 117.4" fill="none" stroke="#efefef" stroke-width="4" stroke-linecap="round" stroke-linejoin="round"/><path d="M808.8 119.3L809.4 120.9L810.4 122.4L811.6 123.8L813.1 125.1L814.8 126.2L816.8 127.2L819 127.9L821.3 128.5L823.7 128.9L826.2 129.1L828.8 129.1L831.3 128.8L833.7 128.4L835.9 127.8L838 127L839.9 126.1L841.5 125.1L842.8 124L843.8 122.9L844.5 121.7L844.8 120.5L844.8 119.4L844.5 118.3L843.8 117.4" fill="none" stroke="#fbfbfb" stroke-width="1.6" stroke-linecap="round" stroke-linejoin="round"/><path d="M812.3 135L813.1 136.8L814.3 138.5L815.8 140.1L817.6 141.5L819.6 142.7L822 143.7L824.5 144.5L827.2 145.1L830 145.4L832.8 145.5L835.7 145.4L838.5 145.1L841.2 144.5L843.7 143.7L846.1 142.7L848.2 141.6L850 140.3L851.4 139L852.6 137.6L853.3 136.2L853.7 134.8L853.6 133.4L853.2 132.1L852.4 130.9" fill="none" stroke="#1c1c1c" stroke-width="7.2" stroke-linecap="round" stroke-linejoin="round"/><path d="M812.3 135L813.1 136.8L814.3 138.5L815.8 140.1L817.6 141.5L819.6 142.7L822 143.7L824.5 144.5L827.2 145.1L830 145.4L832.8 145.5L835.7 145.4L838.5 145.1L841.2 144.5L843.7 143.7L846.1 142.7L848.2 141.6L850 140.3L851.4 139L852.6 137.6L853.3 136.2L853.7 134.8L853.6 133.4L853.2 132.1L852.4 130.9" fill="none" stroke="#efefef" stroke-width="4" stroke-linecap="round" stroke-linejoin="round"/><path d="M812.3 135L813.1 136.8L814.3 138.5L815.8 140.1L817.6 141.5L819.6 142.7L822 143.7L824.5 144.5L827.2 145.1L830 145.4L832.8 145.5L835.7 145.4L838.5 145.1L841.2 144.5L843.7 143.7L846.1 142.7L848.2 141.6L850 140.3L851.4 139L852.6 137.6L853.3 136.2L853.7 134.8L853.6 133.4L853.2 132.1L852.4 130.9" fill="none" stroke="#fbfbfb" stroke-width="1.6" stroke-linecap="round" stroke-linejoin="round"/><path d="M816.8 148.9L817.7 150.9L818.9 152.7L820.6 154.3L822.6 155.8L824.9 157.1L827.5 158.1L830.3 158.9L833.3 159.4L836.4 159.7L839.6 159.7L842.8 159.5L845.9 159L848.8 158.3L851.6 157.3L854.1 156.2L856.4 154.9L858.3 153.5L859.8 152L861 150.4L861.8 148.8L862.1 147.2L862 145.6L861.4 144.2L860.5 142.9" fill="none" stroke="#1c1c1c" stroke-width="7.2" stroke-linecap="round" stroke-linejoin="round"/><path d="M816.8 148.9L817.7 150.9L818.9 152.7L820.6 154.3L822.6 155.8L824.9 157.1L827.5 158.1L830.3 158.9L833.3 159.4L836.4 159.7L839.6 159.7L842.8 159.5L845.9 159L848.8 158.3L851.6 157.3L854.1 156.2L856.4 154.9L858.3 153.5L859.8 152L861 150.4L861.8 148.8L862.1 147.2L862 145.6L861.4 144.2L860.5 142.9" fill="none" stroke="#efefef" stroke-width="4" stroke-linecap="round" stroke-linejoin="round"/><path d="M816.8 148.9L817.7 150.9L818.9 152.7L820.6 154.3L822.6 155.8L824.9 157.1L827.5 158.1L830.3 158.9L833.3 159.4L836.4 159.7L839.6 159.7L842.8 159.5L845.9 159L848.8 158.3L851.6 157.3L854.1 156.2L856.4 154.9L858.3 153.5L859.8 152L861 150.4L861.8 148.8L862.1 147.2L862 145.6L861.4 144.2L860.5 142.9" fill="none" stroke="#fbfbfb" stroke-width="1.6" stroke-linecap="round" stroke-linejoin="round"/><path d="M821.5 161.4L822.5 163.4L823.8 165.3L825.5 167L827.6 168.5L830.1 169.7L832.8 170.8L835.7 171.6L838.8 172.1L842 172.3L845.3 172.3L848.5 172L851.7 171.5L854.8 170.7L857.6 169.6L860.2 168.4L862.5 167.1L864.5 165.5L866.1 163.9L867.3 162.3L868 160.6L868.3 158.9L868.2 157.3L867.6 155.8L866.6 154.4" fill="none" stroke="#1c1c1c" stroke-width="7.2" stroke-linecap="round" stroke-linejoin="round"/><path d="M821.5 161.4L822.5 163.4L823.8 165.3L825.5 167L827.6 168.5L830.1 169.7L832.8 170.8L835.7 171.6L838.8 172.1L842 172.3L845.3 172.3L848.5 172L851.7 171.5L854.8 170.7L857.6 169.6L860.2 168.4L862.5 167.1L864.5 165.5L866.1 163.9L867.3 162.3L868 160.6L868.3 158.9L868.2 157.3L867.6 155.8L866.6 154.4" fill="none" stroke="#efefef" stroke-width="4" stroke-linecap="round" stroke-linejoin="round"/><path d="M821.5 161.4L822.5 163.4L823.8 165.3L825.5 167L827.6 168.5L830.1 169.7L832.8 170.8L835.7 171.6L838.8 172.1L842 172.3L845.3 172.3L848.5 172L851.7 171.5L854.8 170.7L857.6 169.6L860.2 168.4L862.5 167.1L864.5 165.5L866.1 163.9L867.3 162.3L868 160.6L868.3 158.9L868.2 157.3L867.6 155.8L866.6 154.4" fill="none" stroke="#fbfbfb" stroke-width="1.6" stroke-linecap="round" stroke-linejoin="round"/><path d="M827 172.9L827.9 174.9L829.3 176.7L831.1 178.4L833.2 179.9L835.7 181.1L838.4 182.1L841.3 182.9L844.5 183.4L847.7 183.6L851 183.6L854.2 183.2L857.4 182.7L860.5 181.9L863.3 180.8L866 179.6L868.3 178.2L870.3 176.7L871.9 175.1L873.1 173.4L873.8 171.7L874.2 170L874 168.4L873.5 166.9L872.5 165.5" fill="none" stroke="#1c1c1c" stroke-width="7.2" stroke-linecap="round" stroke-linejoin="round"/><path d="M827 172.9L827.9 174.9L829.3 176.7L831.1 178.4L833.2 179.9L835.7 181.1L838.4 182.1L841.3 182.9L844.5 183.4L847.7 183.6L851 183.6L854.2 183.2L857.4 182.7L860.5 181.9L863.3 180.8L866 179.6L868.3 178.2L870.3 176.7L871.9 175.1L873.1 173.4L873.8 171.7L874.2 170L874 168.4L873.5 166.9L872.5 165.5" fill="none" stroke="#efefef" stroke-width="4" stroke-linecap="round" stroke-linejoin="round"/><path d="M827 172.9L827.9 174.9L829.3 176.7L831.1 178.4L833.2 179.9L835.7 181.1L838.4 182.1L841.3 182.9L844.5 183.4L847.7 183.6L851 183.6L854.2 183.2L857.4 182.7L860.5 181.9L863.3 180.8L866 179.6L868.3 178.2L870.3 176.7L871.9 175.1L873.1 173.4L873.8 171.7L874.2 170L874 168.4L873.5 166.9L872.5 165.5" fill="none" stroke="#fbfbfb" stroke-width="1.6" stroke-linecap="round" stroke-linejoin="round"/><path d="M833.1 183.6L834.1 185.5L835.5 187.4L837.3 189L839.4 190.5L841.9 191.7L844.6 192.7L847.6 193.5L850.7 194L853.9 194.2L857.2 194.1L860.5 193.8L863.7 193.2L866.7 192.3L869.5 191.2L872.1 189.9L874.3 188.4L876.2 186.9L877.7 185.2L878.8 183.5L879.5 181.8L879.8 180.1L879.6 178.5L879 177L878 175.6" fill="none" stroke="#1c1c1c" stroke-width="7.2" stroke-linecap="round" stroke-linejoin="round"/><path d="M833.1 183.6L834.1 185.5L835.5 187.4L837.3 189L839.4 190.5L841.9 191.7L844.6 192.7L847.6 193.5L850.7 194L853.9 194.2L857.2 194.1L860.5 193.8L863.7 193.2L866.7 192.3L869.5 191.2L872.1 189.9L874.3 188.4L876.2 186.9L877.7 185.2L878.8 183.5L879.5 181.8L879.8 180.1L879.6 178.5L879 177L878 175.6" fill="none" stroke="#efefef" stroke-width="4" stroke-linecap="round" stroke-linejoin="round"/><path d="M833.1 183.6L834.1 185.5L835.5 187.4L837.3 189L839.4 190.5L841.9 191.7L844.6 192.7L847.6 193.5L850.7 194L853.9 194.2L857.2 194.1L860.5 193.8L863.7 193.2L866.7 192.3L869.5 191.2L872.1 189.9L874.3 188.4L876.2 186.9L877.7 185.2L878.8 183.5L879.5 181.8L879.8 180.1L879.6 178.5L879 177L878 175.6" fill="none" stroke="#fbfbfb" stroke-width="1.6" stroke-linecap="round" stroke-linejoin="round"/><path d="M841 192L841.9 193.7L843.3 195.3L844.9 196.8L846.9 198L849.1 199.1L851.6 199.9L854.3 200.5L857.1 200.9L860 201L862.9 200.9L865.8 200.5L868.5 200L871.2 199.2L873.6 198.2L875.8 197L877.8 195.7L879.4 194.4L880.7 192.9L881.7 191.4L882.3 189.9L882.5 188.4L882.3 187L881.8 185.7L880.9 184.4" fill="none" stroke="#1c1c1c" stroke-width="7.2" stroke-linecap="round" stroke-linejoin="round"/><path d="M841 192L841.9 193.7L843.3 195.3L844.9 196.8L846.9 198L849.1 199.1L851.6 199.9L854.3 200.5L857.1 200.9L860 201L862.9 200.9L865.8 200.5L868.5 200L871.2 199.2L873.6 198.2L875.8 197L877.8 195.7L879.4 194.4L880.7 192.9L881.7 191.4L882.3 189.9L882.5 188.4L882.3 187L881.8 185.7L880.9 184.4" fill="none" stroke="#efefef" stroke-width="4" stroke-linecap="round" stroke-linejoin="round"/><path d="M841 192L841.9 193.7L843.3 195.3L844.9 196.8L846.9 198L849.1 199.1L851.6 199.9L854.3 200.5L857.1 200.9L860 201L862.9 200.9L865.8 200.5L868.5 200L871.2 199.2L873.6 198.2L875.8 197L877.8 195.7L879.4 194.4L880.7 192.9L881.7 191.4L882.3 189.9L882.5 188.4L882.3 187L881.8 185.7L880.9 184.4" fill="none" stroke="#fbfbfb" stroke-width="1.6" stroke-linecap="round" stroke-linejoin="round"/>
<path d="M407.3 881.5A7 9.3 26.7 0 1 415.7 864.9L428.2 871.2A5.6 9.3 26.7 0 1 419.8 887.8Z" fill="url(#g83)" stroke="#1c1c1c" stroke-width="1.45" stroke-linejoin="round"/><path d="M415.5 886.6L424.5 869.4L441.2 878.2A5.8 9.7 27.8 0 1 432.2 895.4Z" fill="url(#g84)" stroke="#1c1c1c" stroke-width="1.45" stroke-linejoin="round"/><ellipse cx="436.7" cy="886.8" rx="5.8" ry="9.7" transform="rotate(27.8 436.7 886.8)" fill="#e6e6e6" stroke="#1c1c1c" stroke-width="1.45"/><ellipse cx="436.7" cy="886.8" rx="4.6" ry="7.6" transform="rotate(27.8 436.7 886.8)" fill="#f4f4f4" stroke="#1c1c1c" stroke-width="1.16"/><path d="M419.8 875.5L293.3 964.7L279 979L277 990L296 1000L300 984L314.7 972L338.7 946.7L425.3 899.5Z" fill="url(#g85)" stroke="none"/><path d="M419.8 875.5L293.3 964.7L279 979L277 990" fill="none" stroke="#1c1c1c" stroke-width="1.45" stroke-linecap="round" stroke-linejoin="round"/><path d="M425.3 899.5L338.7 946.7L314.7 972L300 984L296 1000" fill="none" stroke="#1c1c1c" stroke-width="1.45" stroke-linecap="round" stroke-linejoin="round"/><path d="M419.8 875.5Q431.5 886.5 425.3 899.5Z" fill="#ececec" stroke="#1c1c1c" stroke-width="0" stroke-linejoin="round" stroke-linecap="round"/><path d="M419.8 875.5Q431.5 886.5 425.3 899.5" fill="none" stroke="#1c1c1c" stroke-width="1.3" stroke-linejoin="round" stroke-linecap="round"/><ellipse cx="424.8" cy="872.6" rx="3.2" ry="2" fill="#dcdcdc" stroke="#1c1c1c" stroke-width="0.9"/><path d="M422.8 872.6L423.2 867.4L426.4 867.4L426.8 872.6Z" fill="#e4e4e4" stroke="#1c1c1c" stroke-width="0.9" stroke-linejoin="round" stroke-linecap="round"/><ellipse cx="424.8" cy="867.1" rx="1.9" ry="1.2" fill="#ececec" stroke="#1c1c1c" stroke-width="0.9"/><path d="M360.6 918.8L367.5 917.4L384 924.3L430.8 955.9L432.1 960L396.4 972.4L384 960L372 935Z" fill="#cfcfcf" stroke="#1c1c1c" stroke-width="1.45" stroke-linejoin="round" stroke-linecap="round"/><path d="M353 946L355.5 938L362 928.4L372 924L381.5 927.5L384.5 937L383.5 950L376 960L366 951Z" fill="#b6b6b6" stroke="#1c1c1c" stroke-width="1.45" stroke-linejoin="round" stroke-linecap="round"/><ellipse cx="370.3" cy="933.5" rx="1.7" ry="2.6" transform="rotate(30 370.3 933.5)" fill="#fbfbfb" stroke="#1c1c1c" stroke-width="0.9"/><path d="M366 951L372.5 944.5L374 952.5Z" fill="#fbfbfb" stroke="#1c1c1c" stroke-width="0.9" stroke-linejoin="round" stroke-linecap="round"/><path d="M377 963L380 952L387 942.5L396 937.5L404.5 939.5L406.5 950L405 962L395 972Z" fill="#bcbcbc" stroke="#1c1c1c" stroke-width="1.45" stroke-linejoin="round" stroke-linecap="round"/><ellipse cx="393.6" cy="946.3" rx="1.7" ry="2.6" transform="rotate(30 393.6 946.3)" fill="#fbfbfb" stroke="#1c1c1c" stroke-width="0.9"/><path d="M387.5 962.5L395.5 955.5L397 963.5Z" fill="#fbfbfb" stroke="#1c1c1c" stroke-width="0.9" stroke-linejoin="round" stroke-linecap="round"/><path d="M335.9 938L340.5 935.5L345.5 936.6L395 972.4L394 979L373 977.9L341 956.5Z" fill="#e2e2e2" stroke="#1c1c1c" stroke-width="1.45" stroke-linejoin="round" stroke-linecap="round"/><path d="M359.3 954.5L366.1 950.4L373 958.6L366.1 965.5Z" fill="#fbfbfb" stroke="#1c1c1c" stroke-width="0.9" stroke-linejoin="round" stroke-linecap="round"/><path d="M359.3 954.5L366.1 958.2L373 958.6M366.1 958.2L366.1 965.5" fill="none" stroke="#1c1c1c" stroke-width="0.8" stroke-linejoin="round" stroke-linecap="round"/><path d="M487.8 925.6A4.2 6.7 27.7 0 1 494 913.7L502 917.9A4.2 6.7 27.7 0 1 495.7 929.8Z" fill="url(#g86)" stroke="#1c1c1c" stroke-width="1.45" stroke-linejoin="round"/><path d="M493.4 933.1A6.6 10.7 27.7 0 1 503.4 914.1L506.9 916A6.6 10.7 27.7 0 1 497 934.9Z" fill="url(#g87)" stroke="#1c1c1c" stroke-width="1.45" stroke-linejoin="round"/><ellipse cx="501.9" cy="925.5" rx="6.6" ry="10.7" transform="rotate(27.7 501.9 925.5)" fill="#dedede" stroke="#1c1c1c" stroke-width="1.45"/><path d="M497.8 933.4L506.1 917.6L528.7 929.5A5.5 8.9 27.7 0 1 520.4 945.2Z" fill="url(#g88)" stroke="#1c1c1c" stroke-width="1.45" stroke-linejoin="round"/><path d="M514.7 928.3L400 978L333.3 997.3L318 1000.3L309 999.5L305.5 997L304 1012L308 1015.5L316 1017.3L333.3 1016L400 1000.7L518 946.5Z" fill="url(#g92)" stroke="none"/><path d="M514.7 928.3L400 978L333.3 997.3L318 1000.3L309 999.5L305.5 997" fill="none" stroke="#1c1c1c" stroke-width="1.45" stroke-linecap="round" stroke-linejoin="round"/><path d="M518 946.5L400 1000.7L333.3 1016L316 1017.3L308 1015.5L304 1012" fill="none" stroke="#1c1c1c" stroke-width="1.45" stroke-linecap="round" stroke-linejoin="round"/><path d="M280 997.3L284 981.3L290.7 972L296 970L299.3 973.3L300 981.3L293.3 997.3L291.5 1005.3L288 1006.5L288.5 998L286.5 992L283.5 998L284 1007Z" fill="#bcbcbc" stroke="#1c1c1c" stroke-width="1.45" stroke-linejoin="round" stroke-linecap="round"/><ellipse cx="293.4" cy="978.8" rx="1.5" ry="2.4" transform="rotate(30 293.4 978.8)" fill="#fbfbfb" stroke="#1c1c1c" stroke-width="0.9"/><path d="M296 998.7L300 986.7L306.7 980L312.7 979.3L314.7 985.3L312.7 996L306.7 999.5L300 1003Z" fill="#c2c2c2" stroke="#1c1c1c" stroke-width="1.45" stroke-linejoin="round" stroke-linecap="round"/><ellipse cx="308.5" cy="987" rx="1.5" ry="2.4" transform="rotate(30 308.5 987)" fill="#fbfbfb" stroke="#1c1c1c" stroke-width="0.9"/><path d="M248.7 1002.7L252.7 998.7L278.7 986.7L280 990.7L282.7 1000L286.7 1006.7L274 1018L253.3 1012L249.3 1008Z" fill="#e0e0e0" stroke="#1c1c1c" stroke-width="1.45" stroke-linejoin="round" stroke-linecap="round"/><path d="M286.7 1006.7L305.3 1001.3L306.7 1014.7L309.3 1018.7L304 1020L274.7 1021.3L270.7 1020L274 1018Z" fill="#c4c4c4" stroke="#1c1c1c" stroke-width="1.45" stroke-linejoin="round" stroke-linecap="round"/><path d="M262 1011.5L272 1014.3" fill="none" stroke="#1c1c1c" stroke-width="2.2" stroke-linejoin="round" stroke-linecap="round"/><path d="M514.7 928.3Q519.5 936 518 946.5" fill="none" stroke="#1c1c1c" stroke-width="1.1" stroke-linejoin="round" stroke-linecap="round"/><path d="M518.8 947.1A7 11.3 27.7 0 1 529.3 927.1L532.4 928.7A7 11.3 27.7 0 1 521.9 948.7Z" fill="url(#g89)" stroke="#1c1c1c" stroke-width="1.45" stroke-linejoin="round"/><ellipse cx="527.2" cy="938.7" rx="7" ry="11.3" transform="rotate(27.7 527.2 938.7)" fill="#e6e6e6" stroke="#1c1c1c" stroke-width="1.45"/><path d="M523.1 946.4A5.4 8.7 27.7 0 1 531.2 931L538.7 939.4A3 4.8 27.7 0 1 534.2 947.9Z" fill="url(#g90)" stroke="#1c1c1c" stroke-width="1.45" stroke-linejoin="round"/><ellipse cx="536.5" cy="943.6" rx="3" ry="4.8" transform="rotate(27.7 536.5 943.6)" fill="#ececec" stroke="#1c1c1c" stroke-width="1.45"/><path d="M534.6 947.2A2.5 4 27.7 0 1 538.3 940.1L543.2 942.6A2.5 4 27.7 0 1 539.5 949.7Z" fill="url(#g91)" stroke="#1c1c1c" stroke-width="1.45" stroke-linejoin="round"/><ellipse cx="541.3" cy="946.2" rx="2.5" ry="4" transform="rotate(27.7 541.3 946.2)" fill="#f4f4f4" stroke="#1c1c1c" stroke-width="1.45"/><ellipse cx="517.8" cy="925.5" rx="3" ry="1.8" fill="#dcdcdc" stroke="#1c1c1c" stroke-width="0.9"/><path d="M516 925.5L516.3 920.7L519.3 920.7L519.6 925.5Z" fill="#e4e4e4" stroke="#1c1c1c" stroke-width="0.9" stroke-linejoin="round" stroke-linecap="round"/><ellipse cx="517.8" cy="920.4" rx="1.7" ry="1.1" fill="#ececec" stroke="#1c1c1c" stroke-width="0.9"/>
<path d="M814.7 762.7L830.7 759.3L834.7 762L840 762.7L850.7 766L858.7 772L861.3 778L834.7 796L830.7 781.3L826.7 768.7Z" fill="#e4e4e4" stroke="#1c1c1c" stroke-width="1.45" stroke-linejoin="round" stroke-linecap="round"/><path d="M830.7 781.3L861.3 777.5L834.7 796L833 788Z" fill="#c2c2c2" stroke="#1c1c1c" stroke-width="1.45" stroke-linejoin="round" stroke-linecap="round"/><path d="M836 773.3L841 770L846.7 773.3L841.5 777Z" fill="#fbfbfb" stroke="#1c1c1c" stroke-width="0.9" stroke-linejoin="round" stroke-linecap="round"/><path d="M570.3 786.9A4.2 6.7 27.7 0 1 576.5 775L584.5 779.2A4.2 6.7 27.7 0 1 578.2 791.1Z" fill="url(#g93)" stroke="#1c1c1c" stroke-width="1.45" stroke-linejoin="round"/><path d="M575.9 794.4A6.6 10.7 27.7 0 1 585.9 775.4L589.4 777.3A6.6 10.7 27.7 0 1 579.5 796.2Z" fill="url(#g94)" stroke="#1c1c1c" stroke-width="1.45" stroke-linejoin="round"/><ellipse cx="584.4" cy="786.8" rx="6.6" ry="10.7" transform="rotate(27.7 584.4 786.8)" fill="#dedede" stroke="#1c1c1c" stroke-width="1.45"/><path d="M580.3 794.7L588.6 778.9L611.2 790.8A5.5 8.9 27.7 0 1 602.9 806.5Z" fill="url(#g95)" stroke="#1c1c1c" stroke-width="1.45" stroke-linejoin="round"/><path d="M608 783L737.3 768.7L773.3 765.3L788 766L796 768.5L801 773L806 781L808 797L803 792L795 787L784 784L764 784L685.3 792L618.5 800Z" fill="url(#g105)" stroke="none"/><path d="M608 783L737.3 768.7L773.3 765.3L788 766L796 768.5L801 773L806 781" fill="none" stroke="#1c1c1c" stroke-width="1.45" stroke-linecap="round" stroke-linejoin="round"/><path d="M618.5 800L685.3 792L764 784L784 784L795 787L803 792L808 797" fill="none" stroke="#1c1c1c" stroke-width="1.45" stroke-linecap="round" stroke-linejoin="round"/><path d="M608 783Q615.5 790 618.5 800" fill="none" stroke="#1c1c1c" stroke-width="1.1" stroke-linejoin="round" stroke-linecap="round"/><path d="M601.3 808.4A7 11.3 27.7 0 1 611.8 788.4L614.9 790A7 11.3 27.7 0 1 604.4 810Z" fill="url(#g96)" stroke="#1c1c1c" stroke-width="1.45" stroke-linejoin="round"/><ellipse cx="609.7" cy="800" rx="7" ry="11.3" transform="rotate(27.7 609.7 800)" fill="#e6e6e6" stroke="#1c1c1c" stroke-width="1.45"/><path d="M605.6 807.7A5.4 8.7 27.7 0 1 613.7 792.3L621.2 800.7A3 4.8 27.7 0 1 616.7 809.2Z" fill="url(#g97)" stroke="#1c1c1c" stroke-width="1.45" stroke-linejoin="round"/><ellipse cx="619" cy="804.9" rx="3" ry="4.8" transform="rotate(27.7 619 804.9)" fill="#ececec" stroke="#1c1c1c" stroke-width="1.45"/><path d="M617.1 808.5A2.5 4 27.7 0 1 620.8 801.4L625.7 803.9A2.5 4 27.7 0 1 622 811Z" fill="url(#g98)" stroke="#1c1c1c" stroke-width="1.45" stroke-linejoin="round"/><ellipse cx="623.8" cy="807.5" rx="2.5" ry="4" transform="rotate(27.7 623.8 807.5)" fill="#f4f4f4" stroke="#1c1c1c" stroke-width="1.45"/><ellipse cx="600.5" cy="780.2" rx="3" ry="1.8" fill="#dcdcdc" stroke="#1c1c1c" stroke-width="0.9"/><path d="M598.7 780.2L599 775.4L602 775.4L602.3 780.2Z" fill="#e4e4e4" stroke="#1c1c1c" stroke-width="0.9" stroke-linejoin="round" stroke-linecap="round"/><ellipse cx="600.5" cy="775.1" rx="1.7" ry="1.1" fill="#ececec" stroke="#1c1c1c" stroke-width="0.9"/><path d="M685.3 774.7L717 767.5L722 766L730 769L761.3 786.7L781.3 804L762.7 812L756 805.3Z" fill="#cdcdcd" stroke="#1c1c1c" stroke-width="1.45" stroke-linejoin="round" stroke-linecap="round"/><path d="M713.3 784L717.3 774.7L726.7 769.9L736 770.7L740 778L741.3 788L734.7 797.3L722 790Z" fill="#b6b6b6" stroke="#1c1c1c" stroke-width="1.45" stroke-linejoin="round" stroke-linecap="round"/><ellipse cx="724" cy="778.7" rx="1.7" ry="2.6" transform="rotate(30 724 778.7)" fill="#fbfbfb" stroke="#1c1c1c" stroke-width="0.9"/><path d="M737.3 802.7L741.3 790.7L749.3 784L758.7 785.3L761 793L761.3 802.7L756 812Z" fill="#bcbcbc" stroke="#1c1c1c" stroke-width="1.45" stroke-linejoin="round" stroke-linecap="round"/><ellipse cx="746.9" cy="792.3" rx="1.7" ry="2.6" transform="rotate(30 746.9 792.3)" fill="#fbfbfb" stroke="#1c1c1c" stroke-width="0.9"/><path d="M746 803L750.5 799L752 804.5Z" fill="#fbfbfb" stroke="#1c1c1c" stroke-width="0.9" stroke-linejoin="round" stroke-linecap="round"/><path d="M685.3 774.7L689 772.8L693.3 773.3L756 805.3L754.7 816L730.7 820L688 792Z" fill="#e2e2e2" stroke="#1c1c1c" stroke-width="1.45" stroke-linejoin="round" stroke-linecap="round"/><path d="M712 792L720 788L726.7 797.3L717.3 804Z" fill="#fbfbfb" stroke="#1c1c1c" stroke-width="0.9" stroke-linejoin="round" stroke-linecap="round"/><path d="M712 792L719.5 795.5L726.7 797.3M719.5 795.5L717.3 804" fill="none" stroke="#1c1c1c" stroke-width="0.8" stroke-linejoin="round" stroke-linecap="round"/><path d="M796.7 782.7L798.7 766.7L802.7 757.3L808 754.7L812.7 756.7L814 764L812 774.7L808 784L805.3 793.3L800 790.7Z" fill="#bcbcbc" stroke="#1c1c1c" stroke-width="1.45" stroke-linejoin="round" stroke-linecap="round"/><ellipse cx="805.3" cy="764" rx="1.6" ry="2.6" transform="rotate(25 805.3 764)" fill="#fbfbfb" stroke="#1c1c1c" stroke-width="0.9"/><path d="M800.5 786Q802 775 809 773.5" fill="none" stroke="#1c1c1c" stroke-width="0.9" stroke-linejoin="round" stroke-linecap="round"/><path d="M812 790.7L813.3 776L817.3 766.7L823.3 764L826.7 768.7L830.7 778.7L826.7 782.7L818.7 786.7L815.3 792Z" fill="#c2c2c2" stroke="#1c1c1c" stroke-width="1.45" stroke-linejoin="round" stroke-linecap="round"/><ellipse cx="820" cy="772" rx="1.6" ry="2.6" transform="rotate(25 820 772)" fill="#fbfbfb" stroke="#1c1c1c" stroke-width="0.9"/><ellipse cx="808.5" cy="786" rx="1.2" ry="2.2" transform="rotate(15 808.5 786)" fill="#fbfbfb" stroke="#1c1c1c" stroke-width="0.9"/><path d="M668.8 840.9A4.2 6.7 27.7 0 1 675 829L683 833.2A4.2 6.7 27.7 0 1 676.7 845.1Z" fill="url(#g99)" stroke="#1c1c1c" stroke-width="1.45" stroke-linejoin="round"/><path d="M674.4 848.4A6.6 10.7 27.7 0 1 684.4 829.4L687.9 831.3A6.6 10.7 27.7 0 1 678 850.2Z" fill="url(#g100)" stroke="#1c1c1c" stroke-width="1.45" stroke-linejoin="round"/><ellipse cx="682.9" cy="840.8" rx="6.6" ry="10.7" transform="rotate(27.7 682.9 840.8)" fill="#dedede" stroke="#1c1c1c" stroke-width="1.45"/><path d="M678.8 848.7L687.1 832.9L709.7 844.8A5.5 8.9 27.7 0 1 701.4 860.5Z" fill="url(#g101)" stroke="#1c1c1c" stroke-width="1.45" stroke-linejoin="round"/><path d="M701.3 836L813.3 793.3L821.3 785.3L826.7 782.7L826.7 782.7L832 786.7L834 796L830.7 804L824 809.3L716 853.5Z" fill="url(#g106)" stroke="none"/><path d="M701.3 836L813.3 793.3L821.3 785.3L826.7 782.7" fill="none" stroke="#1c1c1c" stroke-width="1.45" stroke-linecap="round" stroke-linejoin="round"/><path d="M716 853.5L824 809.3L830.7 804L834 796L832 786.7L826.7 782.7" fill="none" stroke="#1c1c1c" stroke-width="1.45" stroke-linecap="round" stroke-linejoin="round"/><path d="M701.3 836Q718.5 844 716 853.5" fill="none" stroke="#1c1c1c" stroke-width="1.1" stroke-linejoin="round" stroke-linecap="round"/><path d="M699.8 862.4A7 11.3 27.7 0 1 710.3 842.4L713.4 844A7 11.3 27.7 0 1 702.9 864Z" fill="url(#g102)" stroke="#1c1c1c" stroke-width="1.45" stroke-linejoin="round"/><ellipse cx="708.2" cy="854" rx="7" ry="11.3" transform="rotate(27.7 708.2 854)" fill="#e6e6e6" stroke="#1c1c1c" stroke-width="1.45"/><path d="M704.1 861.7A5.4 8.7 27.7 0 1 712.2 846.3L719.7 854.7A3 4.8 27.7 0 1 715.2 863.2Z" fill="url(#g103)" stroke="#1c1c1c" stroke-width="1.45" stroke-linejoin="round"/><ellipse cx="717.5" cy="858.9" rx="3" ry="4.8" transform="rotate(27.7 717.5 858.9)" fill="#ececec" stroke="#1c1c1c" stroke-width="1.45"/><path d="M715.6 862.5A2.5 4 27.7 0 1 719.3 855.4L724.2 857.9A2.5 4 27.7 0 1 720.5 865Z" fill="url(#g104)" stroke="#1c1c1c" stroke-width="1.45" stroke-linejoin="round"/><ellipse cx="722.3" cy="861.5" rx="2.5" ry="4" transform="rotate(27.7 722.3 861.5)" fill="#f4f4f4" stroke="#1c1c1c" stroke-width="1.45"/><ellipse cx="699.5" cy="834.5" rx="3" ry="1.8" fill="#dcdcdc" stroke="#1c1c1c" stroke-width="0.9"/><path d="M697.7 834.5L698 829.7L701 829.7L701.3 834.5Z" fill="#e4e4e4" stroke="#1c1c1c" stroke-width="0.9" stroke-linejoin="round" stroke-linecap="round"/><ellipse cx="699.5" cy="829.4" rx="1.7" ry="1.1" fill="#ececec" stroke="#1c1c1c" stroke-width="0.9"/>
<path d="M771.7 201.7L780 197L794.2 197L799.2 201.7L796.7 207.5L780.8 213.3Z" fill="#e0e0e0" stroke="#1c1c1c" stroke-width="1.45" stroke-linejoin="round" stroke-linecap="round"/><path d="M780.8 201.7L785 199.7L789.2 202L785 204.7Z" fill="#fbfbfb" stroke="#1c1c1c" stroke-width="0.9" stroke-linejoin="round" stroke-linecap="round"/><path d="M762 202L777.5 212.3" fill="none" stroke="#1c1c1c" stroke-width="4" stroke-linecap="butt" stroke-linejoin="round"/><path d="M762 202L777.5 212.3" fill="none" stroke="#e0e0e0" stroke-width="2" stroke-linecap="butt" stroke-linejoin="round"/><path d="M762 202L777.5 212.3" fill="none" stroke="#efefef" stroke-width="0.8" stroke-linecap="butt" stroke-linejoin="round"/><path d="M661.5 248.9L768.3 195C785 186.5 805.5 189.5 806 201C806 208 801 212 796.7 214.2L692.5 266.7" fill="none" stroke="#1c1c1c" stroke-width="10.6" stroke-linecap="butt" stroke-linejoin="round"/><path d="M661.5 248.9L768.3 195C785 186.5 805.5 189.5 806 201C806 208 801 212 796.7 214.2L692.5 266.7" fill="none" stroke="#e0e0e0" stroke-width="7.7" stroke-linecap="butt" stroke-linejoin="round"/><path d="M661.5 248.9L768.3 195C785 186.5 805.5 189.5 806 201C806 208 801 212 796.7 214.2L692.5 266.7" fill="none" stroke="#efefef" stroke-width="3.2" stroke-linecap="butt" stroke-linejoin="round" transform="translate(-0.6 -1)"/><path d="M676.8 253.5A1.6 2.6 40.2 0 1 680.2 249.5L684.7 253.3A1.6 2.6 40.2 0 1 681.3 257.3Z" fill="url(#g107)" stroke="#1c1c1c" stroke-width="1.45" stroke-linejoin="round"/><ellipse cx="683" cy="255.3" rx="1.6" ry="2.6" transform="rotate(40.2 683 255.3)" fill="#e0e0e0" stroke="#1c1c1c" stroke-width="1.45"/><path d="M649.5 255.1A4.2 6.6 27 0 1 655.5 243.3L699.7 265.8A4.2 6.6 27 0 1 693.7 277.6Z" fill="url(#g108)" stroke="#1c1c1c" stroke-width="1.45" stroke-linejoin="round"/><ellipse cx="696.7" cy="271.7" rx="4.2" ry="6.6" transform="rotate(27 696.7 271.7)" fill="#e9e9e9" stroke="#1c1c1c" stroke-width="1.45"/><ellipse cx="696.7" cy="271.7" rx="2.7" ry="4.3" transform="rotate(27 696.7 271.7)" fill="#c9c9c9" stroke="#1c1c1c" stroke-width="1.16"/>
<path d="M419.5 422.2L434.7 417.8L454.2 428.7L440 434.1L426 432Z" fill="#e0e0e0" stroke="#1c1c1c" stroke-width="1.45" stroke-linejoin="round" stroke-linecap="round"/><path d="M433.5 418.8L437 416.7L454.2 428.2L447 430Z" fill="#c8c8c8" stroke="#1c1c1c" stroke-width="0.9" stroke-linejoin="round" stroke-linecap="round"/><path d="M426 428L433 430.5" fill="none" stroke="#1c1c1c" stroke-width="1.8" stroke-linejoin="round" stroke-linecap="round"/><path d="M524.5 396.4L430 418.9C417 422 409.5 424 411.3 430C413 437 425 443 441.2 439.5L554.5 414.3" fill="none" stroke="#1c1c1c" stroke-width="10.6" stroke-linecap="butt" stroke-linejoin="round"/><path d="M524.5 396.4L430 418.9C417 422 409.5 424 411.3 430C413 437 425 443 441.2 439.5L554.5 414.3" fill="none" stroke="#e0e0e0" stroke-width="7.7" stroke-linecap="butt" stroke-linejoin="round"/><path d="M524.5 396.4L430 418.9C417 422 409.5 424 411.3 430C413 437 425 443 441.2 439.5L554.5 414.3" fill="none" stroke="#efefef" stroke-width="3.2" stroke-linecap="butt" stroke-linejoin="round" transform="translate(-0.3 -1)"/><path d="M513.5 395.1A4 6.4 33 0 1 520.5 384.3L563.8 412.4A4 6.4 33 0 1 556.8 423.2Z" fill="url(#g109)" stroke="#1c1c1c" stroke-width="1.45" stroke-linejoin="round"/><ellipse cx="560.3" cy="417.8" rx="4" ry="6.4" transform="rotate(33 560.3 417.8)" fill="#e9e9e9" stroke="#1c1c1c" stroke-width="1.45"/><ellipse cx="560.3" cy="417.8" rx="2.7" ry="4.3" transform="rotate(33 560.3 417.8)" fill="#c9c9c9" stroke="#1c1c1c" stroke-width="1.16"/><path d="M532 398.5L535 396L539 397.5L540 401.5L537 404.5L533 403Z" fill="#dcdcdc" stroke="#1c1c1c" stroke-width="1" stroke-linejoin="round" stroke-linecap="round"/><ellipse cx="536" cy="400.3" rx="1.6" ry="1.9" fill="#f0f0f0" stroke="#1c1c1c" stroke-width="0.8"/>
<path d="M755.1 148L755.8 154.8A6.7 3.3 0 0 0 769.2 154.8L769.9 148Z" fill="url(#g110)" stroke="#1c1c1c" stroke-width="1.45" stroke-linejoin="round" stroke-linecap="round"/><ellipse cx="762.5" cy="148" rx="7.4" ry="3.7" fill="#e4e4e4" stroke="#1c1c1c" stroke-width="1.45"/><ellipse cx="762.5" cy="148" rx="4.4" ry="2.2" fill="#10101c" stroke="#1c1c1c" stroke-width="1"/><ellipse cx="764" cy="174.2" rx="9.6" ry="5.4" transform="rotate(8 764 174.2)" fill="#bdbdbd" stroke="#1c1c1c" stroke-width="1.1"/><ellipse cx="764" cy="173" rx="9.6" ry="5.4" transform="rotate(8 764 173)" fill="#e2e2e2" stroke="#1c1c1c" stroke-width="1.1"/><ellipse cx="764" cy="173" rx="4.6" ry="2.4" transform="rotate(8 764 173)" fill="#fbfbfb" stroke="#1c1c1c" stroke-width="1.0"/><path d="M704.2 214.5A1.4 2.3 -49.4 0 1 700.8 211.5L703.8 208A1.4 2.3 -49.4 0 1 707.2 211Z" fill="url(#g111)" stroke="#1c1c1c" stroke-width="1.45" stroke-linejoin="round"/><ellipse cx="705.5" cy="209.5" rx="1.4" ry="2.3" transform="rotate(-49.4 705.5 209.5)" fill="#dcdcdc" stroke="#1c1c1c" stroke-width="1.45"/><ellipse cx="703.3" cy="213.3" rx="2.2" ry="2.6" fill="#c8c8ee" stroke="#1c1c1c" stroke-width="0.9"/><path d="M447 370.4L447.8 377.6A7.5 3.7 0 0 0 462.8 377.6L463.6 370.4Z" fill="url(#g112)" stroke="#1c1c1c" stroke-width="1.45" stroke-linejoin="round" stroke-linecap="round"/><ellipse cx="455.3" cy="370.4" rx="8.3" ry="4.2" transform="rotate(10 455.3 370.4)" fill="#e4e4e4" stroke="#1c1c1c" stroke-width="1.45"/><ellipse cx="455.3" cy="370.4" rx="5" ry="2.5" transform="rotate(10 455.3 370.4)" fill="#f6f6f6" stroke="#1c1c1c" stroke-width="1"/><ellipse cx="455.6" cy="370.5" rx="4.6" ry="2.2" transform="rotate(10 455.6 370.5)" fill="#cfcfcf" stroke="#1c1c1c" stroke-width="0.9"/><ellipse cx="446.6" cy="397.4" rx="9.6" ry="3.4" transform="rotate(17 446.6 397.4)" fill="#bdbdbd" stroke="#1c1c1c" stroke-width="1.1"/><ellipse cx="446.6" cy="396.2" rx="9.6" ry="3.4" transform="rotate(17 446.6 396.2)" fill="#e2e2e2" stroke="#1c1c1c" stroke-width="1.1"/><ellipse cx="446.6" cy="396.2" rx="4.6" ry="1.5" transform="rotate(17 446.6 396.2)" fill="#fbfbfb" stroke="#1c1c1c" stroke-width="1.0"/><ellipse cx="432.5" cy="456.7" rx="11.8" ry="3.6" transform="rotate(15 432.5 456.7)" fill="#bdbdbd" stroke="#1c1c1c" stroke-width="1.1"/><ellipse cx="432.5" cy="455.5" rx="11.8" ry="3.6" transform="rotate(15 432.5 455.5)" fill="#e2e2e2" stroke="#1c1c1c" stroke-width="1.1"/><ellipse cx="432.5" cy="455.5" rx="7" ry="2" transform="rotate(15 432.5 455.5)" fill="#555" stroke="#1c1c1c" stroke-width="1.0"/><ellipse cx="425" cy="487" rx="13.8" ry="4.7" transform="rotate(14 425 487)" fill="#dadada" stroke="#1c1c1c" stroke-width="1.4"/><ellipse cx="425.7" cy="481.5" rx="16" ry="5.4" transform="rotate(14 425.7 481.5)" fill="#e2e2e2" stroke="#1c1c1c" stroke-width="1.4"/><ellipse cx="426.3" cy="476" rx="15.7" ry="5.3" transform="rotate(14 426.3 476)" fill="#e8e8e8" stroke="#1c1c1c" stroke-width="1.4"/><ellipse cx="427" cy="470.5" rx="14.1" ry="5.3" transform="rotate(14 427 470.5)" fill="#ececec" stroke="#1c1c1c" stroke-width="1.4"/><ellipse cx="427" cy="470.7" rx="11.2" ry="4" transform="rotate(14 427 470.7)" fill="#3a3a3a" stroke="#1c1c1c" stroke-width="1.2"/><ellipse cx="427.8" cy="471.9" rx="8.3" ry="2.6" transform="rotate(14 427.8 471.9)" fill="#e6e6e6" stroke="#1c1c1c" stroke-width="1.0"/><path d="M514.8 373A1.6 2.6 41.3 0 1 518.2 369L520.7 371.2A1.6 2.6 41.3 0 1 517.3 375.2Z" fill="url(#g113)" stroke="#1c1c1c" stroke-width="1.45" stroke-linejoin="round"/><ellipse cx="519" cy="373.2" rx="1.6" ry="2.6" transform="rotate(41.3 519 373.2)" fill="#d8d8d8" stroke="#1c1c1c" stroke-width="1.45"/><ellipse cx="305.5" cy="869" rx="13.3" ry="4.5" transform="rotate(17 305.5 869)" fill="#dadada" stroke="#1c1c1c" stroke-width="1.4"/><ellipse cx="306.2" cy="863.5" rx="15.5" ry="5.3" transform="rotate(17 306.2 863.5)" fill="#e2e2e2" stroke="#1c1c1c" stroke-width="1.4"/><ellipse cx="306.8" cy="858" rx="15.2" ry="5.2" transform="rotate(17 306.8 858)" fill="#e8e8e8" stroke="#1c1c1c" stroke-width="1.4"/><ellipse cx="307.5" cy="852.5" rx="13.6" ry="5.1" transform="rotate(17 307.5 852.5)" fill="#ececec" stroke="#1c1c1c" stroke-width="1.4"/><ellipse cx="307.5" cy="852.7" rx="10.8" ry="3.9" transform="rotate(17 307.5 852.7)" fill="#3a3a3a" stroke="#1c1c1c" stroke-width="1.2"/><ellipse cx="308.3" cy="853.9" rx="8.1" ry="2.5" transform="rotate(17 308.3 853.9)" fill="#e6e6e6" stroke="#1c1c1c" stroke-width="1.0"/><ellipse cx="294.4" cy="886.2" rx="12.2" ry="3.4" transform="rotate(17 294.4 886.2)" fill="#bdbdbd" stroke="#1c1c1c" stroke-width="1.1"/><ellipse cx="294.4" cy="885" rx="12.2" ry="3.4" transform="rotate(17 294.4 885)" fill="#e2e2e2" stroke="#1c1c1c" stroke-width="1.1"/><ellipse cx="294.4" cy="885" rx="7.5" ry="1.9" transform="rotate(17 294.4 885)" fill="#555" stroke="#1c1c1c" stroke-width="1.0"/><ellipse cx="289.4" cy="900.4" rx="9.6" ry="2.9" transform="rotate(17 289.4 900.4)" fill="#bdbdbd" stroke="#1c1c1c" stroke-width="1.1"/><ellipse cx="289.4" cy="899.2" rx="9.6" ry="2.9" transform="rotate(17 289.4 899.2)" fill="#e2e2e2" stroke="#1c1c1c" stroke-width="1.1"/><ellipse cx="289.4" cy="899.2" rx="5.6" ry="1.5" transform="rotate(17 289.4 899.2)" fill="#555" stroke="#1c1c1c" stroke-width="1.0"/><path d="M274.8 917.4L275.6 924.5A7.2 3.6 0 0 0 290 924.5L290.8 917.4Z" fill="url(#g114)" stroke="#1c1c1c" stroke-width="1.45" stroke-linejoin="round" stroke-linecap="round"/><ellipse cx="282.8" cy="917.4" rx="8" ry="4" transform="rotate(14 282.8 917.4)" fill="#e4e4e4" stroke="#1c1c1c" stroke-width="1.45"/><ellipse cx="282.8" cy="917.4" rx="4.8" ry="2.4" transform="rotate(14 282.8 917.4)" fill="#f6f6f6" stroke="#1c1c1c" stroke-width="1"/><ellipse cx="819" cy="664" rx="14.8" ry="5" transform="rotate(8 819 664)" fill="#dadada" stroke="#1c1c1c" stroke-width="1.4"/><ellipse cx="819.7" cy="658.5" rx="17.2" ry="5.8" transform="rotate(8 819.7 658.5)" fill="#e2e2e2" stroke="#1c1c1c" stroke-width="1.4"/><ellipse cx="820.3" cy="653" rx="16.9" ry="5.7" transform="rotate(8 820.3 653)" fill="#e8e8e8" stroke="#1c1c1c" stroke-width="1.4"/><ellipse cx="821" cy="647.5" rx="15.1" ry="5.7" transform="rotate(8 821 647.5)" fill="#ececec" stroke="#1c1c1c" stroke-width="1.4"/><ellipse cx="821" cy="647.7" rx="12" ry="4.3" transform="rotate(8 821 647.7)" fill="#f4f4f4" stroke="#1c1c1c" stroke-width="1.2"/><ellipse cx="821.8" cy="648.9" rx="8.9" ry="2.8" transform="rotate(8 821.8 648.9)" fill="#e4e4e4" stroke="#1c1c1c" stroke-width="1.0"/><ellipse cx="829.3" cy="688.4" rx="12.6" ry="8" transform="rotate(-5 829.3 688.4)" fill="#bdbdbd" stroke="#1c1c1c" stroke-width="1.1"/><ellipse cx="829.3" cy="687.2" rx="12.6" ry="8" transform="rotate(-5 829.3 687.2)" fill="#e2e2e2" stroke="#1c1c1c" stroke-width="1.1"/><ellipse cx="829.3" cy="687.2" rx="0.1" ry="0.1" transform="rotate(-5 829.3 687.2)" fill="#fbfbfb" stroke="#1c1c1c" stroke-width="1.0"/><path d="M822.3 687.7L829.8 682.7L836.8 686.4L829.3 691.9Z" fill="#fbfbfb" stroke="#1c1c1c" stroke-width="0.9" stroke-linejoin="round" stroke-linecap="round"/><ellipse cx="832" cy="710.6" rx="9.8" ry="6.8" transform="rotate(-5 832 710.6)" fill="#bdbdbd" stroke="#1c1c1c" stroke-width="1.1"/><ellipse cx="832" cy="709.4" rx="9.8" ry="6.8" transform="rotate(-5 832 709.4)" fill="#e2e2e2" stroke="#1c1c1c" stroke-width="1.1"/><ellipse cx="832" cy="709.4" rx="4" ry="2.6" transform="rotate(-5 832 709.4)" fill="#fbfbfb" stroke="#1c1c1c" stroke-width="1.0"/><path d="M826.5 730.7L827.3 738.3A7.6 3.8 0 0 0 842.5 738.3L843.3 730.7Z" fill="url(#g115)" stroke="#1c1c1c" stroke-width="1.45" stroke-linejoin="round" stroke-linecap="round"/><ellipse cx="834.9" cy="730.7" rx="8.4" ry="4.2" fill="#e4e4e4" stroke="#1c1c1c" stroke-width="1.45"/><ellipse cx="834.9" cy="730.7" rx="5" ry="2.5" fill="#10101c" stroke="#1c1c1c" stroke-width="1"/>
<g stroke="#2a2a96" stroke-width="1.15"><line x1="352" y1="43.2" x2="432" y2="42.3"/><line x1="352" y1="167" x2="416" y2="168"/><line x1="313.5" y1="267" x2="313.5" y2="294"/><line x1="486.5" y1="292" x2="486.5" y2="319"/><line x1="549" y1="106.4" x2="623" y2="106.4"/><line x1="662" y1="146.7" x2="757" y2="145.8"/><line x1="656" y1="213.5" x2="702" y2="213.5"/><line x1="625.5" y1="262" x2="625.5" y2="293"/><line x1="623.2" y1="367" x2="623.2" y2="396"/><line x1="716.7" y1="303.8" x2="752.5" y2="303.8"/><line x1="284" y1="397" x2="447" y2="396"/><line x1="285" y1="457" x2="428" y2="456"/><line x1="530.7" y1="425.4" x2="530.7" y2="471"/><line x1="808" y1="430.3" x2="859.3" y2="430.3"/><line x1="279" y1="565.5" x2="327" y2="565.5"/><line x1="396" y1="734.7" x2="396" y2="792.7"/><line x1="428.7" y1="736" x2="428.7" y2="804.7"/><line x1="459.5" y1="737.5" x2="459.5" y2="827.3"/><line x1="494.5" y1="739.5" x2="494.5" y2="846"/><line x1="600.7" y1="747.3" x2="600.7" y2="776.7"/><line x1="840.7" y1="687.6" x2="865.8" y2="687.6"/><line x1="839.2" y1="705.4" x2="912.7" y2="704.2"/><line x1="825.7" y1="804.4" x2="880" y2="803.1"/><line x1="540.7" y1="874" x2="635.3" y2="871.9"/><line x1="584.7" y1="902" x2="627.3" y2="900.7"/><line x1="240" y1="859.4" x2="302" y2="859.4"/><line x1="237" y1="964" x2="294" y2="964"/></g>
<g font-family="Liberation Sans, sans-serif"><path transform="translate(315.23 54.00) scale(0.01626 -0.01626)" d="M763 0L583 0L583 1147Q518 1085 412.5 1023Q307 961 223 930L223 1104Q374 1175 487 1276Q600 1377 647 1472L763 1472Z" fill="#1a12c4" stroke="#1a12c4" stroke-width="18.45045045045045"/><text x="333.75" y="54.00" font-size="33.3" fill="#1a12c4" stroke="#1a12c4" stroke-width="0.3" xml:space="preserve">4</text><path transform="translate(318.71 178.00) scale(0.01626 -0.01626)" d="M763 0L583 0L583 1147Q518 1085 412.5 1023Q307 961 223 930L223 1104Q374 1175 487 1276Q600 1377 647 1472L763 1472Z" fill="#1a12c4" stroke="#1a12c4" stroke-width="18.45045045045045"/><path transform="translate(337.23 178.00) scale(0.01626 -0.01626)" d="M763 0L583 0L583 1147Q518 1085 412.5 1023Q307 961 223 930L223 1104Q374 1175 487 1276Q600 1377 647 1472L763 1472Z" fill="#1a12c4" stroke="#1a12c4" stroke-width="18.45045045045045"/><path transform="translate(293.92 325.90) scale(0.01626 -0.01626)" d="M763 0L583 0L583 1147Q518 1085 412.5 1023Q307 961 223 930L223 1104Q374 1175 487 1276Q600 1377 647 1472L763 1472Z" fill="#1a12c4" stroke="#1a12c4" stroke-width="18.45045045045045"/><text x="312.44" y="325.90" font-size="33.3" fill="#1a12c4" stroke="#1a12c4" stroke-width="0.3" xml:space="preserve">6</text><path transform="translate(467.08 282.70) scale(0.01626 -0.01626)" d="M763 0L583 0L583 1147Q518 1085 412.5 1023Q307 961 223 930L223 1104Q374 1175 487 1276Q600 1377 647 1472L763 1472Z" fill="#1a12c4" stroke="#1a12c4" stroke-width="18.45045045045045"/><text x="485.60" y="282.70" font-size="33.3" fill="#1a12c4" stroke="#1a12c4" stroke-width="0.3" xml:space="preserve">2</text><path transform="translate(621.93 117.00) scale(0.01626 -0.01626)" d="M763 0L583 0L583 1147Q518 1085 412.5 1023Q307 961 223 930L223 1104Q374 1175 487 1276Q600 1377 647 1472L763 1472Z" fill="#1a12c4" stroke="#1a12c4" stroke-width="18.45045045045045"/><text x="640.45" y="117.00" font-size="33.3" fill="#1a12c4" stroke="#1a12c4" stroke-width="0.3" xml:space="preserve">7</text><path transform="translate(624.27 158.00) scale(0.01626 -0.01626)" d="M763 0L583 0L583 1147Q518 1085 412.5 1023Q307 961 223 930L223 1104Q374 1175 487 1276Q600 1377 647 1472L763 1472Z" fill="#1a12c4" stroke="#1a12c4" stroke-width="18.45045045045045"/><text x="642.79" y="158.00" font-size="33.3" fill="#1a12c4" stroke="#1a12c4" stroke-width="0.3" xml:space="preserve">8</text><text x="635.93" y="224.40" font-size="33.3" fill="#1a12c4" stroke="#1a12c4" stroke-width="0.3" xml:space="preserve">5</text><text x="608.70" y="322.20" font-size="33.3" fill="#1a12c4" stroke="#1a12c4" stroke-width="0.3" xml:space="preserve">2</text><path transform="translate(627.22 322.20) scale(0.01626 -0.01626)" d="M763 0L583 0L583 1147Q518 1085 412.5 1023Q307 961 223 930L223 1104Q374 1175 487 1276Q600 1377 647 1472L763 1472Z" fill="#1a12c4" stroke="#1a12c4" stroke-width="18.45045045045045"/><path transform="translate(604.02 358.00) scale(0.01626 -0.01626)" d="M763 0L583 0L583 1147Q518 1085 412.5 1023Q307 961 223 930L223 1104Q374 1175 487 1276Q600 1377 647 1472L763 1472Z" fill="#1a12c4" stroke="#1a12c4" stroke-width="18.45045045045045"/><text x="622.54" y="358.00" font-size="33.3" fill="#1a12c4" stroke="#1a12c4" stroke-width="0.3" xml:space="preserve">0</text><text x="753.12" y="315.40" font-size="33.3" fill="#1a12c4" stroke="#1a12c4" stroke-width="0.3" xml:space="preserve">22</text><text x="247.50" y="408.00" font-size="33.3" fill="#1a12c4" stroke="#1a12c4" stroke-width="0.3" xml:space="preserve">20</text><text x="247.50" y="468.40" font-size="33.3" fill="#1a12c4" stroke="#1a12c4" stroke-width="0.3" xml:space="preserve">23</text><text x="521.23" y="502.80" font-size="33.3" fill="#1a12c4" stroke="#1a12c4" stroke-width="0.3" xml:space="preserve">2</text><text x="860.14" y="441.40" font-size="33.3" fill="#1a12c4" stroke="#1a12c4" stroke-width="0.3" xml:space="preserve">3</text><text x="259.79" y="576.60" font-size="33.3" fill="#1a12c4" stroke="#1a12c4" stroke-width="0.3" xml:space="preserve">4</text><path transform="translate(376.62 725.00) scale(0.01626 -0.01626)" d="M763 0L583 0L583 1147Q518 1085 412.5 1023Q307 961 223 930L223 1104Q374 1175 487 1276Q600 1377 647 1472L763 1472Z" fill="#1a12c4" stroke="#1a12c4" stroke-width="18.45045045045045"/><text x="395.14" y="725.00" font-size="33.3" fill="#1a12c4" stroke="#1a12c4" stroke-width="0.3" xml:space="preserve">5</text><text x="419.61" y="726.00" font-size="33.3" fill="#1a12c4" stroke="#1a12c4" stroke-width="0.3" xml:space="preserve">6</text><text x="450.84" y="728.60" font-size="33.3" fill="#1a12c4" stroke="#1a12c4" stroke-width="0.3" xml:space="preserve">9</text><path transform="translate(475.27 729.90) scale(0.01626 -0.01626)" d="M763 0L583 0L583 1147Q518 1085 412.5 1023Q307 961 223 930L223 1104Q374 1175 487 1276Q600 1377 647 1472L763 1472Z" fill="#1a12c4" stroke="#1a12c4" stroke-width="18.45045045045045"/><text x="493.79" y="729.90" font-size="33.3" fill="#1a12c4" stroke="#1a12c4" stroke-width="0.3" xml:space="preserve">3</text><text x="591.38" y="737.70" font-size="33.3" fill="#1a12c4" stroke="#1a12c4" stroke-width="0.3" xml:space="preserve">5</text><text x="866.20" y="699.30" font-size="33.3" fill="#1a12c4" stroke="#1a12c4" stroke-width="0.3" xml:space="preserve">23</text><text x="912.70" y="715.60" font-size="33.3" fill="#1a12c4" stroke="#1a12c4" stroke-width="0.3" xml:space="preserve">20</text><path transform="translate(878.77 814.40) scale(0.01626 -0.01626)" d="M763 0L583 0L583 1147Q518 1085 412.5 1023Q307 961 223 930L223 1104Q374 1175 487 1276Q600 1377 647 1472L763 1472Z" fill="#1a12c4" stroke="#1a12c4" stroke-width="18.45045045045045"/><text x="636.03" y="882.30" font-size="33.3" fill="#1a12c4" stroke="#1a12c4" stroke-width="0.3" xml:space="preserve">7</text><path transform="translate(625.13 912.40) scale(0.01626 -0.01626)" d="M763 0L583 0L583 1147Q518 1085 412.5 1023Q307 961 223 930L223 1104Q374 1175 487 1276Q600 1377 647 1472L763 1472Z" fill="#1a12c4" stroke="#1a12c4" stroke-width="18.45045045045045"/><text x="643.65" y="912.40" font-size="33.3" fill="#1a12c4" stroke="#1a12c4" stroke-width="0.3" xml:space="preserve">9</text><text x="220.43" y="870.40" font-size="33.3" fill="#1a12c4" stroke="#1a12c4" stroke-width="0.3" xml:space="preserve">8</text><path transform="translate(221.97 974.50) scale(0.01626 -0.01626)" d="M763 0L583 0L583 1147Q518 1085 412.5 1023Q307 961 223 930L223 1104Q374 1175 487 1276Q600 1377 647 1472L763 1472Z" fill="#1a12c4" stroke="#1a12c4" stroke-width="18.45045045045045"/></g>
<g font-family="Liberation Sans, sans-serif"><text x="35.67" y="1180.00" font-size="33.44" fill="#141414" stroke="#141414" stroke-width="0.25" xml:space="preserve">© 20</text><path transform="translate(106.79 1180.00) scale(0.01633 -0.01633)" d="M763 0L583 0L583 1147Q518 1085 412.5 1023Q307 961 223 930L223 1104Q374 1175 487 1276Q600 1377 647 1472L763 1472Z" fill="#141414" stroke="#141414" stroke-width="15.311004784688997"/><text x="125.39" y="1180.00" font-size="33.44" fill="#141414" stroke="#141414" stroke-width="0.25" xml:space="preserve">7 Polaris Industries Inc.</text><text x="1028.31" y="1178.00" font-size="33.72" fill="#141414" stroke="#141414" stroke-width="0.25" xml:space="preserve">C</text><path transform="translate(1052.67 1178.00) scale(0.01646 -0.01646)" d="M763 0L583 0L583 1147Q518 1085 412.5 1023Q307 961 223 930L223 1104Q374 1175 487 1276Q600 1377 647 1472L763 1472Z" fill="#141414" stroke="#141414" stroke-width="15.183867141162516"/><text x="1071.42" y="1178.00" font-size="33.72" fill="#141414" stroke="#141414" stroke-width="0.25" xml:space="preserve">0</text><path transform="translate(1090.17 1178.00) scale(0.01646 -0.01646)" d="M763 0L583 0L583 1147Q518 1085 412.5 1023Q307 961 223 930L223 1104Q374 1175 487 1276Q600 1377 647 1472L763 1472Z" fill="#141414" stroke="#141414" stroke-width="15.183867141162516"/><text x="1108.93" y="1178.00" font-size="33.72" fill="#141414" stroke="#141414" stroke-width="0.25" xml:space="preserve">42</text><path transform="translate(1146.43 1178.00) scale(0.01646 -0.01646)" d="M763 0L583 0L583 1147Q518 1085 412.5 1023Q307 961 223 930L223 1104Q374 1175 487 1276Q600 1377 647 1472L763 1472Z" fill="#141414" stroke="#141414" stroke-width="15.183867141162516"/></g>
</svg>
</body></html>
